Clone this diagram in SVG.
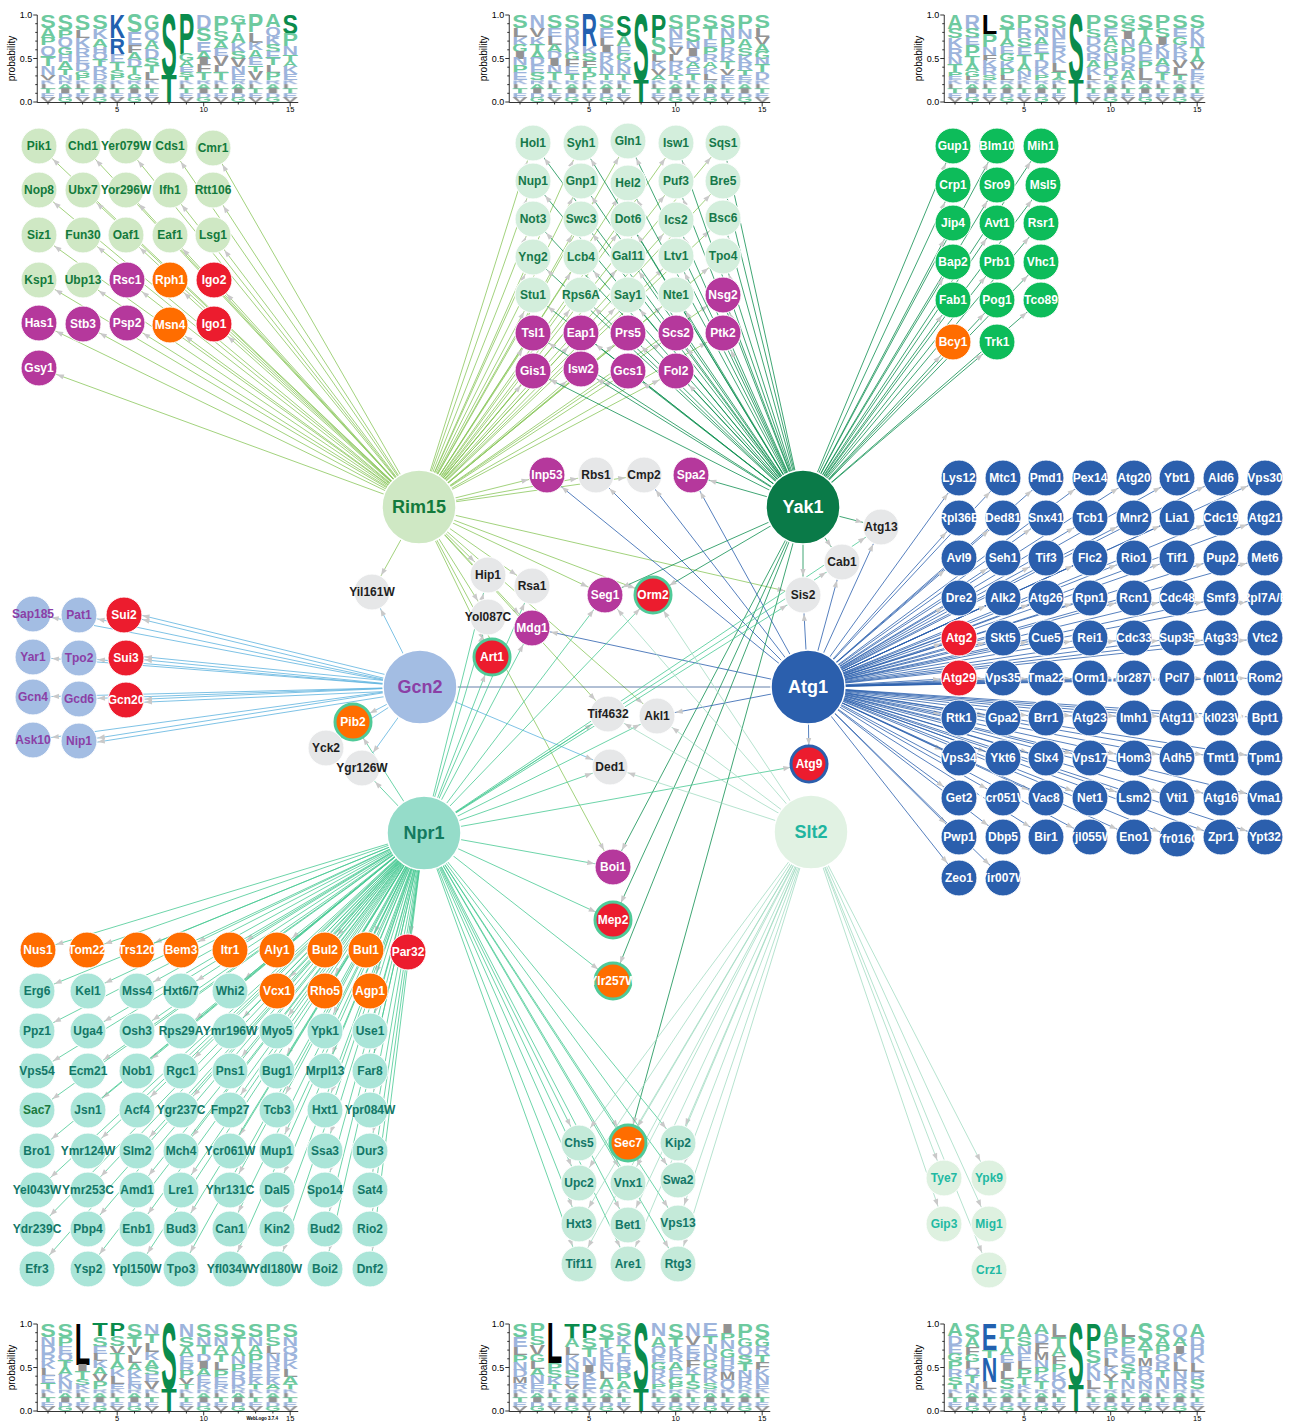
<svg xmlns="http://www.w3.org/2000/svg" width="1292" height="1421" viewBox="0 0 1292 1421">
<style>
text{font-family:"Liberation Sans",Arial,Helvetica,sans-serif;font-weight:bold}
.N text{font-size:12px;text-anchor:middle}
.N circle{stroke:#fff;stroke-width:1}
.H text{font-size:18px;text-anchor:middle}
.H circle{stroke:#fff;stroke-width:1.5}
.rl circle{fill:#cfe8c4}.rl text{fill:#137a3c}
.yl circle{fill:#d3eedc}.yl text{fill:#16784a}
.yb circle{fill:#0dbc5a}.yb text{fill:#fff}
.yd circle{fill:#0a7a48}.yd text{fill:#fff}
.mg circle{fill:#b5389c}.mg text{fill:#fff}
.or circle{fill:#ff6d00}.or text{fill:#fff}
.rd circle{fill:#ec1c2e}.rd text{fill:#fff}
.gy circle{fill:#e6e7e8}.gy text{fill:#1e1e1e}
.gb circle{fill:#a3bde3}.gb text{fill:#8b3fa6}
.ab circle{fill:#2b5fad}.ab text{fill:#fff}
.nl circle{fill:#aae5d8}.nl text{fill:#137767}
.nh circle{fill:#95dcc9}.nh text{fill:#137a5f}
.sm circle{fill:#c4ead9}.sm text{fill:#137767}
.sl circle{fill:#def1e0}.sl text{fill:#22b9a3}
.sh circle{fill:#e1f2e3}.sh text{fill:#1fb5a0}
.rg circle{stroke:#4fca98;stroke-width:3}
.rb circle{stroke:#2b5fad;stroke-width:3}
.E path{fill:none;stroke-width:.8;marker-end:url(#ar)}
.er path{stroke:#8ac65c}.ey path{stroke:#0f8f50}.eg path{stroke:#5db3de}.ea path{stroke:#2b5fad}.en path{stroke:#48c993}.es path{stroke:#a3dcc3}
.a{fill:#6dca9f}.b{fill:#9db4dc}.c{fill:#939393}.d{fill:#0a8b4c}.e{fill:#2261b0}.f{fill:#000}
.ty{font-weight:normal;font-size:9px;text-anchor:end}
.tp{font-weight:normal;font-size:10px;text-anchor:middle}
.tx{font-weight:normal;font-size:7.5px;text-anchor:middle}
</style>
<defs>
<marker id="ar" markerUnits="userSpaceOnUse" orient="auto" overflow="visible" markerWidth="1" markerHeight="1" refX="0" refY="0"><path d="M-26,-2.6L-19,0L-26,2.6z" fill="#c9c9c9" stroke="none"/></marker>
<text id="S" textLength="15.5" lengthAdjust="spacingAndGlyphs" font-size="14.5" font-weight="bold" font-family="Liberation Sans,Arial,sans-serif">S</text>
<text id="A" textLength="15.5" lengthAdjust="spacingAndGlyphs" font-size="14.5" font-weight="bold" font-family="Liberation Sans,Arial,sans-serif">A</text>
<text id="P" textLength="15.5" lengthAdjust="spacingAndGlyphs" font-size="14.5" font-weight="bold" font-family="Liberation Sans,Arial,sans-serif">P</text>
<text id="Q" textLength="15.5" lengthAdjust="spacingAndGlyphs" font-size="14.5" font-weight="bold" font-family="Liberation Sans,Arial,sans-serif">Q</text>
<text id="T" textLength="15.5" lengthAdjust="spacingAndGlyphs" font-size="14.5" font-weight="bold" font-family="Liberation Sans,Arial,sans-serif">T</text>
<text id="N" textLength="15.5" lengthAdjust="spacingAndGlyphs" font-size="14.5" font-weight="bold" font-family="Liberation Sans,Arial,sans-serif">N</text>
<text id="V" textLength="15.5" lengthAdjust="spacingAndGlyphs" font-size="14.5" font-weight="bold" font-family="Liberation Sans,Arial,sans-serif">V</text>
<text id="E" textLength="15.5" lengthAdjust="spacingAndGlyphs" font-size="14.5" font-weight="bold" font-family="Liberation Sans,Arial,sans-serif">E</text>
<text id="K" textLength="15.5" lengthAdjust="spacingAndGlyphs" font-size="14.5" font-weight="bold" font-family="Liberation Sans,Arial,sans-serif">K</text>
<text id="G" textLength="15.5" lengthAdjust="spacingAndGlyphs" font-size="14.5" font-weight="bold" font-family="Liberation Sans,Arial,sans-serif">G</text>
<text id="H" textLength="15.5" lengthAdjust="spacingAndGlyphs" font-size="14.5" font-weight="bold" font-family="Liberation Sans,Arial,sans-serif">H</text>
<text id="L" textLength="15.5" lengthAdjust="spacingAndGlyphs" font-size="14.5" font-weight="bold" font-family="Liberation Sans,Arial,sans-serif">L</text>
<text id="R" textLength="15.5" lengthAdjust="spacingAndGlyphs" font-size="14.5" font-weight="bold" font-family="Liberation Sans,Arial,sans-serif">R</text>
<text id="D" textLength="15.5" lengthAdjust="spacingAndGlyphs" font-size="14.5" font-weight="bold" font-family="Liberation Sans,Arial,sans-serif">D</text>
<text id="F" textLength="15.5" lengthAdjust="spacingAndGlyphs" font-size="14.5" font-weight="bold" font-family="Liberation Sans,Arial,sans-serif">F</text>
<text id="I" textLength="15.5" lengthAdjust="spacingAndGlyphs" font-size="14.5" font-weight="bold" font-family="Liberation Sans,Arial,sans-serif">I</text>
<text id="M" textLength="15.5" lengthAdjust="spacingAndGlyphs" font-size="14.5" font-weight="bold" font-family="Liberation Sans,Arial,sans-serif">M</text>
<text id="Y" textLength="15.5" lengthAdjust="spacingAndGlyphs" font-size="14.5" font-weight="bold" font-family="Liberation Sans,Arial,sans-serif">Y</text>
<pattern id="rs" width="34.6" height="25" patternUnits="userSpaceOnUse">
<use href="#K" class="b" transform="matrix(1 0 0 .5 0 5)"/><use href="#L" class="c" transform="matrix(1 0 0 .5 0 10)"/><use href="#T" class="a" transform="matrix(1 0 0 .5 0 15)"/><use href="#E" class="b" transform="matrix(1 0 0 .5 0 20)"/><use href="#V" class="c" transform="matrix(1 0 0 .5 0 25)"/>
<use href="#R" class="b" transform="matrix(1 0 0 .5 17.3 5)"/><use href="#A" class="a" transform="matrix(1 0 0 .5 17.3 10)"/><use href="#I" class="c" transform="matrix(1 0 0 .5 17.3 15)"/><use href="#D" class="b" transform="matrix(1 0 0 .5 17.3 20)"/><use href="#G" class="a" transform="matrix(1 0 0 .5 17.3 25)"/>
</pattern>
<path id="ax" d="M-3,0V87.5H258M-7,0H-3M-7,43.5H-3M-7,87H-3M-5,8.7H-3M-5,17.4H-3M-5,26.1H-3M-5,34.8H-3M-5,52.2H-3M-5,60.9H-3M-5,69.6H-3M-5,78.3H-3M7.75,87.5v2M25.05,87.5v2M42.35,87.5v2M59.65,87.5v2M76.95,87.5v4M94.25,87.5v2M111.55,87.5v2M128.85,87.5v2M146.15,87.5v2M163.45,87.5v4M180.75,87.5v2M198.05,87.5v2M215.35,87.5v2M232.65,87.5v2M249.95,87.5v4" stroke="#000" stroke-width=".8" fill="none"/>
</defs>
<rect width="1292" height="1421" fill="#fff"/>

<!-- LOGOS -->
<g id="logo-rim15" transform="translate(40.25,15)">
<use href="#ax"/>
<text class="ty" x="-8" y="3">1.0</text><text class="ty" x="-8" y="46.5">0.5</text><text class="ty" x="-8" y="90">0.0</text>
<text class="tp" transform="translate(-25,43.5)rotate(-90)">probability</text>
<text class="tx" x="76.95" y="97">5</text><text class="tx" x="163.45" y="97">10</text><text class="tx" x="249.95" y="97">15</text>
<g transform="scale(1,.87)">
<rect x="0" y="75" width="119.3" height="25" fill="url(#rs)"/><rect x="138.4" y="75" width="119.3" height="25" fill="url(#rs)"/>
<use href="#S" class="a" transform="matrix(1 0 0 1.5 0 15)"/><use href="#A" class="a" transform="matrix(1 0 0 1.1 0 26)"/><use href="#P" class="a" transform="matrix(1 0 0 .9 0 35)"/><use href="#Q" class="b" transform="matrix(1 0 0 1.2 0 47)"/><use href="#T" class="a" transform="matrix(1 0 0 1.2 0 59)"/><use href="#N" class="b" transform="matrix(1 0 0 1 0 69)"/><use href="#V" class="c" transform="matrix(1 0 0 .6 0 75)"/>
<use href="#S" class="a" transform="matrix(1 0 0 1.7 17.3 17)"/><use href="#P" class="a" transform="matrix(1 0 0 .9 17.3 26)"/><use href="#Q" class="b" transform="matrix(1 0 0 1.1 17.3 37)"/><use href="#G" class="a" transform="matrix(1 0 0 .9 17.3 46)"/><use href="#H" class="b" transform="matrix(1 0 0 .8 17.3 54)"/><use href="#A" class="a" transform="matrix(1 0 0 .8 17.3 62)"/><use href="#T" class="a" transform="matrix(1 0 0 .7 17.3 69)"/><use href="#N" class="b" transform="matrix(1 0 0 .6 17.3 75)"/>
<use href="#S" class="a" transform="matrix(1 0 0 1.7 34.6 17)"/><use href="#L" class="c" transform="matrix(1 0 0 .9 34.6 26)"/><use href="#K" class="b" transform="matrix(1 0 0 1.2 34.6 38)"/><use href="#R" class="b" transform="matrix(1 0 0 .9 34.6 47)"/><use href="#E" class="b" transform="matrix(1 0 0 .9 34.6 56)"/><use href="#D" class="b" transform="matrix(1 0 0 .8 34.6 64)"/><use href="#G" class="a" transform="matrix(1 0 0 .6 34.6 70)"/><use href="#P" class="a" transform="matrix(1 0 0 .5 34.6 75)"/>
<use href="#S" class="a" transform="matrix(1 0 0 1.6 51.9 16)"/><use href="#K" class="b" transform="matrix(1 0 0 1.2 51.9 28)"/><use href="#A" class="a" transform="matrix(1 0 0 .9 51.9 37)"/><use href="#H" class="b" transform="matrix(1 0 0 .7 51.9 44)"/><use href="#Q" class="b" transform="matrix(1 0 0 .8 51.9 52)"/><use href="#T" class="a" transform="matrix(1 0 0 .8 51.9 60)"/><use href="#R" class="b" transform="matrix(1 0 0 .8 51.9 68)"/><use href="#D" class="b" transform="matrix(1 0 0 .7 51.9 75)"/>
<use href="#K" class="e" transform="matrix(1 0 0 2.7 69.2 27)"/><use href="#R" class="e" transform="matrix(1 0 0 1.8 69.2 45)"/><use href="#E" class="b" transform="matrix(1 0 0 1 69.2 55)"/><use href="#T" class="a" transform="matrix(1 0 0 .8 69.2 63)"/><use href="#S" class="a" transform="matrix(1 0 0 .7 69.2 70)"/><use href="#P" class="a" transform="matrix(1 0 0 .5 69.2 75)"/>
<use href="#S" class="a" transform="matrix(1 0 0 2 86.5 20)"/><use href="#E" class="b" transform="matrix(1 0 0 1.5 86.5 35)"/><use href="#F" class="c" transform="matrix(1 0 0 .9 86.5 44)"/><use href="#A" class="a" transform="matrix(1 0 0 .8 86.5 52)"/><use href="#D" class="b" transform="matrix(1 0 0 .8 86.5 60)"/><use href="#T" class="a" transform="matrix(1 0 0 .8 86.5 68)"/><use href="#G" class="a" transform="matrix(1 0 0 .7 86.5 75)"/>
<use href="#G" class="a" transform="matrix(1 0 0 1.7 103.8 17)"/><use href="#Q" class="b" transform="matrix(1 0 0 1.2 103.8 29)"/><use href="#A" class="a" transform="matrix(1 0 0 1 103.8 39)"/><use href="#D" class="b" transform="matrix(1 0 0 1.1 103.8 50)"/><use href="#S" class="a" transform="matrix(1 0 0 .9 103.8 59)"/><use href="#T" class="a" transform="matrix(1 0 0 .8 103.8 67)"/><use href="#L" class="c" transform="matrix(1 0 0 .8 103.8 75)"/>
<use href="#S" class="d" transform="matrix(1 0 0 6.9 121.1 69)"/><use href="#T" class="d" transform="matrix(1 0 0 3.1 121.1 100)"/>
<use href="#P" class="d" transform="matrix(1 0 0 4.5 138.4 45)"/><use href="#G" class="a" transform="matrix(1 0 0 .8 138.4 53)"/><use href="#A" class="a" transform="matrix(1 0 0 .7 138.4 60)"/><use href="#E" class="b" transform="matrix(1 0 0 .6 138.4 66)"/><use href="#S" class="a" transform="matrix(1 0 0 .5 138.4 71)"/><use href="#T" class="a" transform="matrix(1 0 0 .4 138.4 75)"/>
<use href="#D" class="b" transform="matrix(1 0 0 1.6 155.7 16)"/><use href="#S" class="a" transform="matrix(1 0 0 1.4 155.7 30)"/><use href="#E" class="b" transform="matrix(1 0 0 1.2 155.7 42)"/><use href="#A" class="a" transform="matrix(1 0 0 .8 155.7 50)"/><use href="#I" class="c" transform="matrix(1 0 0 .8 155.7 58)"/><use href="#F" class="c" transform="matrix(1 0 0 .8 155.7 66)"/><use href="#T" class="a" transform="matrix(1 0 0 .9 155.7 75)"/>
<use href="#P" class="a" transform="matrix(1 0 0 1.8 173 18)"/><use href="#S" class="a" transform="matrix(1 0 0 1.2 173 30)"/><use href="#A" class="a" transform="matrix(1 0 0 .9 173 39)"/><use href="#E" class="b" transform="matrix(1 0 0 .8 173 47)"/><use href="#V" class="c" transform="matrix(1 0 0 1.2 173 59)"/><use href="#L" class="c" transform="matrix(1 0 0 .8 173 67)"/><use href="#T" class="a" transform="matrix(1 0 0 .8 173 75)"/>
<use href="#G" class="a" transform="matrix(1 0 0 1 190.3 10)"/><use href="#T" class="a" transform="matrix(1 0 0 1 190.3 20)"/><use href="#A" class="a" transform="matrix(1 0 0 1.2 190.3 32)"/><use href="#K" class="b" transform="matrix(1 0 0 1 190.3 42)"/><use href="#S" class="a" transform="matrix(1 0 0 .8 190.3 50)"/><use href="#V" class="c" transform="matrix(1 0 0 1 190.3 60)"/><use href="#N" class="b" transform="matrix(1 0 0 .8 190.3 68)"/><use href="#E" class="b" transform="matrix(1 0 0 .7 190.3 75)"/>
<use href="#P" class="a" transform="matrix(1 0 0 2 207.6 20)"/><use href="#L" class="c" transform="matrix(1 0 0 1.2 207.6 32)"/><use href="#K" class="b" transform="matrix(1 0 0 .8 207.6 40)"/><use href="#A" class="a" transform="matrix(1 0 0 1 207.6 50)"/><use href="#E" class="b" transform="matrix(1 0 0 .8 207.6 58)"/><use href="#T" class="a" transform="matrix(1 0 0 .7 207.6 65)"/><use href="#V" class="c" transform="matrix(1 0 0 1 207.6 75)"/>
<use href="#A" class="a" transform="matrix(1 0 0 1.4 224.9 14)"/><use href="#Q" class="b" transform="matrix(1 0 0 1 224.9 24)"/><use href="#K" class="b" transform="matrix(1 0 0 1 224.9 34)"/><use href="#S" class="a" transform="matrix(1 0 0 .8 224.9 42)"/><use href="#E" class="b" transform="matrix(1 0 0 .8 224.9 50)"/><use href="#T" class="a" transform="matrix(1 0 0 .8 224.9 58)"/><use href="#L" class="c" transform="matrix(1 0 0 .9 224.9 67)"/><use href="#P" class="a" transform="matrix(1 0 0 .8 224.9 75)"/>
<use href="#S" class="d" transform="matrix(1 0 0 2.2 242.2 22)"/><use href="#P" class="a" transform="matrix(1 0 0 1.4 242.2 36)"/><use href="#N" class="b" transform="matrix(1 0 0 1 242.2 46)"/><use href="#T" class="a" transform="matrix(1 0 0 .7 242.2 53)"/><use href="#A" class="a" transform="matrix(1 0 0 .7 242.2 60)"/><use href="#K" class="b" transform="matrix(1 0 0 .8 242.2 68)"/><use href="#E" class="b" transform="matrix(1 0 0 .7 242.2 75)"/>
</g></g>

<g id="logo-yak1" transform="translate(512.25,15)">
<use href="#ax"/>
<text class="ty" x="-8" y="3">1.0</text><text class="ty" x="-8" y="46.5">0.5</text><text class="ty" x="-8" y="90">0.0</text>
<text class="tp" transform="translate(-25,43.5)rotate(-90)">probability</text>
<text class="tx" x="76.95" y="97">5</text><text class="tx" x="163.45" y="97">10</text><text class="tx" x="249.95" y="97">15</text>
<g transform="scale(1,.87)">
<rect x="0" y="75" width="119.3" height="25" fill="url(#rs)"/><rect x="138.4" y="75" width="119.3" height="25" fill="url(#rs)"/>
<use href="#S" class="a" transform="matrix(1 0 0 1.5 0 15)"/><use href="#L" class="c" transform="matrix(1 0 0 1 0 25)"/><use href="#K" class="b" transform="matrix(1 0 0 .9 0 34)"/><use href="#G" class="a" transform="matrix(1 0 0 .8 0 42)"/><use href="#I" class="c" transform="matrix(1 0 0 .8 0 50)"/><use href="#N" class="b" transform="matrix(1 0 0 .8 0 58)"/><use href="#P" class="a" transform="matrix(1 0 0 .9 0 67)"/><use href="#E" class="b" transform="matrix(1 0 0 .8 0 75)"/>
<use href="#N" class="b" transform="matrix(1 0 0 1.5 17.3 15)"/><use href="#V" class="c" transform="matrix(1 0 0 1 17.3 25)"/><use href="#K" class="b" transform="matrix(1 0 0 .9 17.3 34)"/><use href="#T" class="a" transform="matrix(1 0 0 .8 17.3 42)"/><use href="#A" class="a" transform="matrix(1 0 0 .8 17.3 50)"/><use href="#D" class="b" transform="matrix(1 0 0 .8 17.3 58)"/><use href="#E" class="b" transform="matrix(1 0 0 .9 17.3 67)"/><use href="#S" class="a" transform="matrix(1 0 0 .8 17.3 75)"/>
<use href="#S" class="a" transform="matrix(1 0 0 1.5 34.6 15)"/><use href="#E" class="b" transform="matrix(1 0 0 1 34.6 25)"/><use href="#L" class="c" transform="matrix(1 0 0 1 34.6 35)"/><use href="#A" class="a" transform="matrix(1 0 0 .8 34.6 43)"/><use href="#D" class="b" transform="matrix(1 0 0 .8 34.6 51)"/><use href="#I" class="c" transform="matrix(1 0 0 .8 34.6 59)"/><use href="#N" class="b" transform="matrix(1 0 0 .8 34.6 67)"/><use href="#T" class="a" transform="matrix(1 0 0 .8 34.6 75)"/>
<use href="#S" class="a" transform="matrix(1 0 0 1.5 51.9 15)"/><use href="#D" class="b" transform="matrix(1 0 0 1 51.9 25)"/><use href="#N" class="b" transform="matrix(1 0 0 1 51.9 35)"/><use href="#K" class="b" transform="matrix(1 0 0 .9 51.9 44)"/><use href="#G" class="a" transform="matrix(1 0 0 .8 51.9 52)"/><use href="#F" class="c" transform="matrix(1 0 0 .8 51.9 60)"/><use href="#E" class="b" transform="matrix(1 0 0 .8 51.9 68)"/><use href="#T" class="a" transform="matrix(1 0 0 .7 51.9 75)"/>
<use href="#R" class="e" transform="matrix(1 0 0 3.6 69.2 36)"/><use href="#K" class="b" transform="matrix(1 0 0 .9 69.2 45)"/><use href="#S" class="a" transform="matrix(1 0 0 .8 69.2 53)"/><use href="#F" class="c" transform="matrix(1 0 0 .7 69.2 60)"/><use href="#T" class="a" transform="matrix(1 0 0 .7 69.2 67)"/><use href="#P" class="a" transform="matrix(1 0 0 .8 69.2 75)"/>
<use href="#S" class="a" transform="matrix(1 0 0 1.5 86.5 15)"/><use href="#E" class="b" transform="matrix(1 0 0 1.2 86.5 27)"/><use href="#L" class="c" transform="matrix(1 0 0 .9 86.5 36)"/><use href="#I" class="c" transform="matrix(1 0 0 .8 86.5 44)"/><use href="#R" class="b" transform="matrix(1 0 0 .8 86.5 52)"/><use href="#K" class="b" transform="matrix(1 0 0 .8 86.5 60)"/><use href="#N" class="b" transform="matrix(1 0 0 .8 86.5 68)"/><use href="#T" class="a" transform="matrix(1 0 0 .7 86.5 75)"/>
<use href="#S" class="d" transform="matrix(1 0 0 2.4 103.8 24)"/><use href="#A" class="a" transform="matrix(1 0 0 1.2 103.8 36)"/><use href="#E" class="b" transform="matrix(1 0 0 .9 103.8 45)"/><use href="#G" class="a" transform="matrix(1 0 0 .8 103.8 53)"/><use href="#K" class="b" transform="matrix(1 0 0 .8 103.8 61)"/><use href="#N" class="b" transform="matrix(1 0 0 .7 103.8 68)"/><use href="#T" class="a" transform="matrix(1 0 0 .7 103.8 75)"/>
<use href="#S" class="d" transform="matrix(1 0 0 7.5 121.1 75)"/><use href="#T" class="d" transform="matrix(1 0 0 2.5 121.1 100)"/>
<use href="#P" class="d" transform="matrix(1 0 0 2.6 138.4 26)"/><use href="#S" class="a" transform="matrix(1 0 0 2 138.4 46)"/><use href="#L" class="c" transform="matrix(1 0 0 .8 138.4 54)"/><use href="#K" class="b" transform="matrix(1 0 0 .8 138.4 62)"/><use href="#V" class="c" transform="matrix(1 0 0 .7 138.4 69)"/><use href="#A" class="a" transform="matrix(1 0 0 .6 138.4 75)"/>
<use href="#S" class="a" transform="matrix(1 0 0 1.6 155.7 16)"/><use href="#N" class="b" transform="matrix(1 0 0 1.1 155.7 27)"/><use href="#E" class="b" transform="matrix(1 0 0 1 155.7 37)"/><use href="#V" class="c" transform="matrix(1 0 0 .9 155.7 46)"/><use href="#L" class="c" transform="matrix(1 0 0 .8 155.7 54)"/><use href="#R" class="b" transform="matrix(1 0 0 .8 155.7 62)"/><use href="#K" class="b" transform="matrix(1 0 0 .7 155.7 69)"/><use href="#T" class="a" transform="matrix(1 0 0 .6 155.7 75)"/>
<use href="#P" class="a" transform="matrix(1 0 0 1.6 173 16)"/><use href="#S" class="a" transform="matrix(1 0 0 1.5 173 31)"/><use href="#N" class="b" transform="matrix(1 0 0 .8 173 39)"/><use href="#I" class="c" transform="matrix(1 0 0 .8 173 47)"/><use href="#Q" class="b" transform="matrix(1 0 0 .7 173 54)"/><use href="#A" class="a" transform="matrix(1 0 0 .7 173 61)"/><use href="#E" class="b" transform="matrix(1 0 0 .7 173 68)"/><use href="#T" class="a" transform="matrix(1 0 0 .7 173 75)"/>
<use href="#S" class="a" transform="matrix(1 0 0 1.5 190.3 15)"/><use href="#T" class="a" transform="matrix(1 0 0 1.3 190.3 28)"/><use href="#E" class="b" transform="matrix(1 0 0 .9 190.3 37)"/><use href="#P" class="a" transform="matrix(1 0 0 .9 190.3 46)"/><use href="#R" class="b" transform="matrix(1 0 0 .8 190.3 54)"/><use href="#A" class="a" transform="matrix(1 0 0 .7 190.3 61)"/><use href="#K" class="b" transform="matrix(1 0 0 .7 190.3 68)"/><use href="#L" class="c" transform="matrix(1 0 0 .7 190.3 75)"/>
<use href="#S" class="a" transform="matrix(1 0 0 1.5 207.6 15)"/><use href="#N" class="b" transform="matrix(1 0 0 1.2 207.6 27)"/><use href="#P" class="a" transform="matrix(1 0 0 1 207.6 37)"/><use href="#R" class="b" transform="matrix(1 0 0 .9 207.6 46)"/><use href="#K" class="b" transform="matrix(1 0 0 .8 207.6 54)"/><use href="#T" class="a" transform="matrix(1 0 0 .8 207.6 62)"/><use href="#V" class="c" transform="matrix(1 0 0 .7 207.6 69)"/><use href="#E" class="b" transform="matrix(1 0 0 .6 207.6 75)"/>
<use href="#P" class="a" transform="matrix(1 0 0 1.6 224.9 16)"/><use href="#N" class="b" transform="matrix(1 0 0 1.2 224.9 28)"/><use href="#A" class="a" transform="matrix(1 0 0 1 224.9 38)"/><use href="#S" class="a" transform="matrix(1 0 0 .9 224.9 47)"/><use href="#K" class="b" transform="matrix(1 0 0 .8 224.9 55)"/><use href="#R" class="b" transform="matrix(1 0 0 .8 224.9 63)"/><use href="#T" class="a" transform="matrix(1 0 0 .7 224.9 70)"/><use href="#E" class="b" transform="matrix(1 0 0 .5 224.9 75)"/>
<use href="#S" class="a" transform="matrix(1 0 0 1.5 242.2 15)"/><use href="#L" class="c" transform="matrix(1 0 0 1 242.2 25)"/><use href="#V" class="c" transform="matrix(1 0 0 .9 242.2 34)"/><use href="#A" class="a" transform="matrix(1 0 0 .8 242.2 42)"/><use href="#G" class="a" transform="matrix(1 0 0 .8 242.2 50)"/><use href="#N" class="b" transform="matrix(1 0 0 .8 242.2 58)"/><use href="#T" class="a" transform="matrix(1 0 0 .8 242.2 66)"/><use href="#D" class="b" transform="matrix(1 0 0 .9 242.2 75)"/>
</g></g>

<g id="logo-atg1" transform="translate(947.25,15)">
<use href="#ax"/>
<text class="ty" x="-8" y="3">1.0</text><text class="ty" x="-8" y="46.5">0.5</text><text class="ty" x="-8" y="90">0.0</text>
<text class="tp" transform="translate(-25,43.5)rotate(-90)">probability</text>
<text class="tx" x="76.95" y="97">5</text><text class="tx" x="163.45" y="97">10</text><text class="tx" x="249.95" y="97">15</text>
<g transform="scale(1,.87)">
<rect x="0" y="75" width="119.3" height="25" fill="url(#rs)"/><rect x="138.4" y="75" width="119.3" height="25" fill="url(#rs)"/>
<use href="#A" class="a" transform="matrix(1 0 0 1.6 0 16)"/><use href="#S" class="a" transform="matrix(1 0 0 1.1 0 27)"/><use href="#K" class="b" transform="matrix(1 0 0 1.1 0 38)"/><use href="#R" class="b" transform="matrix(1 0 0 1.1 0 49)"/><use href="#N" class="b" transform="matrix(1 0 0 .8 0 57)"/><use href="#T" class="a" transform="matrix(1 0 0 .8 0 65)"/><use href="#P" class="a" transform="matrix(1 0 0 .6 0 71)"/><use href="#E" class="b" transform="matrix(1 0 0 .4 0 75)"/>
<use href="#R" class="b" transform="matrix(1 0 0 1.6 17.3 16)"/><use href="#S" class="a" transform="matrix(1 0 0 1.1 17.3 27)"/><use href="#E" class="b" transform="matrix(1 0 0 .8 17.3 35)"/><use href="#P" class="a" transform="matrix(1 0 0 1.3 17.3 48)"/><use href="#T" class="a" transform="matrix(1 0 0 .8 17.3 56)"/><use href="#A" class="a" transform="matrix(1 0 0 .8 17.3 64)"/><use href="#G" class="a" transform="matrix(1 0 0 .7 17.3 71)"/><use href="#L" class="c" transform="matrix(1 0 0 .4 17.3 75)"/>
<use href="#L" class="f" transform="matrix(1 0 0 2.2 34.6 22)"/><use href="#P" class="a" transform="matrix(1 0 0 1.5 34.6 37)"/><use href="#N" class="b" transform="matrix(1 0 0 .9 34.6 46)"/><use href="#F" class="c" transform="matrix(1 0 0 .7 34.6 53)"/><use href="#K" class="b" transform="matrix(1 0 0 .8 34.6 61)"/><use href="#R" class="b" transform="matrix(1 0 0 .8 34.6 69)"/><use href="#S" class="a" transform="matrix(1 0 0 .6 34.6 75)"/>
<use href="#S" class="a" transform="matrix(1 0 0 1.6 51.9 16)"/><use href="#T" class="a" transform="matrix(1 0 0 1.1 51.9 27)"/><use href="#A" class="a" transform="matrix(1 0 0 .9 51.9 36)"/><use href="#E" class="b" transform="matrix(1 0 0 .9 51.9 45)"/><use href="#G" class="a" transform="matrix(1 0 0 .8 51.9 53)"/><use href="#K" class="b" transform="matrix(1 0 0 .9 51.9 62)"/><use href="#P" class="a" transform="matrix(1 0 0 .8 51.9 70)"/><use href="#L" class="c" transform="matrix(1 0 0 .5 51.9 75)"/>
<use href="#P" class="a" transform="matrix(1 0 0 1.5 69.2 15)"/><use href="#R" class="b" transform="matrix(1 0 0 1.2 69.2 27)"/><use href="#S" class="a" transform="matrix(1 0 0 1 69.2 37)"/><use href="#E" class="b" transform="matrix(1 0 0 .9 69.2 46)"/><use href="#T" class="a" transform="matrix(1 0 0 .9 69.2 55)"/><use href="#A" class="a" transform="matrix(1 0 0 .9 69.2 64)"/><use href="#N" class="b" transform="matrix(1 0 0 .7 69.2 71)"/><use href="#K" class="b" transform="matrix(1 0 0 .4 69.2 75)"/>
<use href="#S" class="a" transform="matrix(1 0 0 1.5 86.5 15)"/><use href="#N" class="b" transform="matrix(1 0 0 1 86.5 25)"/><use href="#A" class="a" transform="matrix(1 0 0 .9 86.5 34)"/><use href="#E" class="b" transform="matrix(1 0 0 1 86.5 44)"/><use href="#T" class="a" transform="matrix(1 0 0 .9 86.5 53)"/><use href="#D" class="b" transform="matrix(1 0 0 .8 86.5 61)"/><use href="#K" class="b" transform="matrix(1 0 0 .8 86.5 69)"/><use href="#P" class="a" transform="matrix(1 0 0 .6 86.5 75)"/>
<use href="#S" class="a" transform="matrix(1 0 0 1.5 103.8 15)"/><use href="#N" class="b" transform="matrix(1 0 0 1.2 103.8 27)"/><use href="#E" class="b" transform="matrix(1 0 0 1 103.8 37)"/><use href="#R" class="b" transform="matrix(1 0 0 .9 103.8 46)"/><use href="#K" class="b" transform="matrix(1 0 0 .9 103.8 55)"/><use href="#L" class="c" transform="matrix(1 0 0 1 103.8 65)"/><use href="#T" class="a" transform="matrix(1 0 0 .7 103.8 72)"/><use href="#A" class="a" transform="matrix(1 0 0 .3 103.8 75)"/>
<use href="#S" class="d" transform="matrix(1 0 0 7.5 121.1 75)"/><use href="#T" class="d" transform="matrix(1 0 0 2.5 121.1 100)"/>
<use href="#P" class="a" transform="matrix(1 0 0 1.6 138.4 16)"/><use href="#S" class="a" transform="matrix(1 0 0 1 138.4 26)"/><use href="#D" class="b" transform="matrix(1 0 0 .9 138.4 35)"/><use href="#Q" class="b" transform="matrix(1 0 0 .9 138.4 44)"/><use href="#R" class="b" transform="matrix(1 0 0 .9 138.4 53)"/><use href="#A" class="a" transform="matrix(1 0 0 .8 138.4 61)"/><use href="#K" class="b" transform="matrix(1 0 0 .8 138.4 69)"/><use href="#L" class="c" transform="matrix(1 0 0 .6 138.4 75)"/>
<use href="#S" class="a" transform="matrix(1 0 0 1.5 155.7 15)"/><use href="#E" class="b" transform="matrix(1 0 0 1 155.7 25)"/><use href="#A" class="a" transform="matrix(1 0 0 1 155.7 35)"/><use href="#G" class="a" transform="matrix(1 0 0 .9 155.7 44)"/><use href="#N" class="b" transform="matrix(1 0 0 .9 155.7 53)"/><use href="#P" class="a" transform="matrix(1 0 0 .9 155.7 62)"/><use href="#Q" class="b" transform="matrix(1 0 0 .8 155.7 70)"/><use href="#T" class="a" transform="matrix(1 0 0 .5 155.7 75)"/>
<use href="#G" class="a" transform="matrix(1 0 0 1 173 10)"/><use href="#S" class="a" transform="matrix(1 0 0 .9 173 19)"/><use href="#I" class="c" transform="matrix(1 0 0 .9 173 28)"/><use href="#N" class="b" transform="matrix(1 0 0 .9 173 37)"/><use href="#P" class="a" transform="matrix(1 0 0 .9 173 46)"/><use href="#Q" class="b" transform="matrix(1 0 0 .9 173 55)"/><use href="#R" class="b" transform="matrix(1 0 0 .9 173 64)"/><use href="#A" class="a" transform="matrix(1 0 0 1.1 173 75)"/>
<use href="#S" class="a" transform="matrix(1 0 0 1.5 190.3 15)"/><use href="#T" class="a" transform="matrix(1 0 0 1.1 190.3 26)"/><use href="#A" class="a" transform="matrix(1 0 0 .9 190.3 35)"/><use href="#D" class="b" transform="matrix(1 0 0 .9 190.3 44)"/><use href="#E" class="b" transform="matrix(1 0 0 .9 190.3 53)"/><use href="#P" class="a" transform="matrix(1 0 0 .9 190.3 62)"/><use href="#L" class="c" transform="matrix(1 0 0 1.3 190.3 75)"/>
<use href="#P" class="a" transform="matrix(1 0 0 1.5 207.6 15)"/><use href="#S" class="a" transform="matrix(1 0 0 1.1 207.6 26)"/><use href="#I" class="c" transform="matrix(1 0 0 .8 207.6 34)"/><use href="#K" class="b" transform="matrix(1 0 0 .9 207.6 43)"/><use href="#N" class="b" transform="matrix(1 0 0 .8 207.6 51)"/><use href="#A" class="a" transform="matrix(1 0 0 .8 207.6 59)"/><use href="#Q" class="b" transform="matrix(1 0 0 .8 207.6 67)"/><use href="#T" class="a" transform="matrix(1 0 0 .8 207.6 75)"/>
<use href="#S" class="a" transform="matrix(1 0 0 1.5 224.9 15)"/><use href="#E" class="b" transform="matrix(1 0 0 1 224.9 25)"/><use href="#G" class="a" transform="matrix(1 0 0 .9 224.9 34)"/><use href="#K" class="b" transform="matrix(1 0 0 .9 224.9 43)"/><use href="#R" class="b" transform="matrix(1 0 0 .9 224.9 52)"/><use href="#V" class="c" transform="matrix(1 0 0 .9 224.9 61)"/><use href="#L" class="c" transform="matrix(1 0 0 .8 224.9 69)"/><use href="#T" class="a" transform="matrix(1 0 0 .6 224.9 75)"/>
<use href="#S" class="a" transform="matrix(1 0 0 1.5 242.2 15)"/><use href="#K" class="b" transform="matrix(1 0 0 1.2 242.2 27)"/><use href="#N" class="b" transform="matrix(1 0 0 1 242.2 37)"/><use href="#T" class="a" transform="matrix(1 0 0 .9 242.2 46)"/><use href="#A" class="a" transform="matrix(1 0 0 .9 242.2 55)"/><use href="#V" class="c" transform="matrix(1 0 0 .8 242.2 63)"/><use href="#E" class="b" transform="matrix(1 0 0 .8 242.2 71)"/><use href="#R" class="b" transform="matrix(1 0 0 .4 242.2 75)"/>
</g></g>

<g id="logo-npr1" transform="translate(40.25,1324)">
<use href="#ax"/>
<text class="ty" x="-8" y="3">1.0</text><text class="ty" x="-8" y="46.5">0.5</text><text class="ty" x="-8" y="90">0.0</text>
<text class="tp" transform="translate(-25,43.5)rotate(-90)">probability</text>
<text class="tx" x="76.95" y="97">5</text><text class="tx" x="163.45" y="97">10</text><text class="tx" x="249.95" y="97">15</text>
<text x="222" y="96" font-size="4.5" font-weight="normal" text-anchor="middle">WebLogo 3.7.4</text>
<g transform="scale(1,.87)">
<rect x="0" y="75" width="119.3" height="25" fill="url(#rs)"/><rect x="138.4" y="75" width="119.3" height="25" fill="url(#rs)"/>
<use href="#S" class="a" transform="matrix(1 0 0 1.5 0 15)"/><use href="#N" class="b" transform="matrix(1 0 0 1 0 25)"/><use href="#D" class="b" transform="matrix(1 0 0 1 0 35)"/><use href="#R" class="b" transform="matrix(1 0 0 .9 0 44)"/><use href="#K" class="b" transform="matrix(1 0 0 .8 0 52)"/><use href="#L" class="c" transform="matrix(1 0 0 .8 0 60)"/><use href="#E" class="b" transform="matrix(1 0 0 .8 0 68)"/><use href="#T" class="a" transform="matrix(1 0 0 .7 0 75)"/>
<use href="#S" class="a" transform="matrix(1 0 0 1.5 17.3 15)"/><use href="#P" class="a" transform="matrix(1 0 0 1 17.3 25)"/><use href="#E" class="b" transform="matrix(1 0 0 .9 17.3 34)"/><use href="#Q" class="b" transform="matrix(1 0 0 .9 17.3 43)"/><use href="#T" class="a" transform="matrix(1 0 0 .8 17.3 51)"/><use href="#A" class="a" transform="matrix(1 0 0 .8 17.3 59)"/><use href="#K" class="b" transform="matrix(1 0 0 .8 17.3 67)"/><use href="#N" class="b" transform="matrix(1 0 0 .8 17.3 75)"/>
<use href="#L" class="f" transform="matrix(1 0 0 4.7 34.6 47)"/><use href="#I" class="c" transform="matrix(1 0 0 .8 34.6 55)"/><use href="#T" class="a" transform="matrix(1 0 0 .8 34.6 63)"/><use href="#S" class="a" transform="matrix(1 0 0 .7 34.6 70)"/><use href="#K" class="b" transform="matrix(1 0 0 .5 34.6 75)"/>
<use href="#T" class="d" transform="matrix(1 0 0 1.4 51.9 14)"/><use href="#S" class="a" transform="matrix(1 0 0 1.2 51.9 26)"/><use href="#E" class="b" transform="matrix(1 0 0 .8 51.9 34)"/><use href="#L" class="c" transform="matrix(1 0 0 .9 51.9 43)"/><use href="#K" class="b" transform="matrix(1 0 0 .8 51.9 51)"/><use href="#A" class="a" transform="matrix(1 0 0 .8 51.9 59)"/><use href="#V" class="c" transform="matrix(1 0 0 .8 51.9 67)"/><use href="#P" class="a" transform="matrix(1 0 0 .8 51.9 75)"/>
<use href="#P" class="d" transform="matrix(1 0 0 1.4 69.2 14)"/><use href="#S" class="a" transform="matrix(1 0 0 1.1 69.2 25)"/><use href="#V" class="c" transform="matrix(1 0 0 .9 69.2 34)"/><use href="#T" class="a" transform="matrix(1 0 0 .9 69.2 43)"/><use href="#A" class="a" transform="matrix(1 0 0 .9 69.2 52)"/><use href="#K" class="b" transform="matrix(1 0 0 .9 69.2 61)"/><use href="#L" class="c" transform="matrix(1 0 0 .8 69.2 69)"/><use href="#E" class="b" transform="matrix(1 0 0 .6 69.2 75)"/>
<use href="#S" class="a" transform="matrix(1 0 0 1.5 86.5 15)"/><use href="#T" class="a" transform="matrix(1 0 0 1.1 86.5 26)"/><use href="#V" class="c" transform="matrix(1 0 0 1 86.5 36)"/><use href="#L" class="c" transform="matrix(1 0 0 .9 86.5 45)"/><use href="#A" class="a" transform="matrix(1 0 0 .9 86.5 54)"/><use href="#K" class="b" transform="matrix(1 0 0 .8 86.5 62)"/><use href="#E" class="b" transform="matrix(1 0 0 .8 86.5 70)"/><use href="#N" class="b" transform="matrix(1 0 0 .5 86.5 75)"/>
<use href="#N" class="b" transform="matrix(1 0 0 1.2 103.8 12)"/><use href="#T" class="a" transform="matrix(1 0 0 1 103.8 22)"/><use href="#L" class="c" transform="matrix(1 0 0 1 103.8 32)"/><use href="#K" class="b" transform="matrix(1 0 0 .9 103.8 41)"/><use href="#A" class="a" transform="matrix(1 0 0 .9 103.8 50)"/><use href="#S" class="a" transform="matrix(1 0 0 .9 103.8 59)"/><use href="#E" class="b" transform="matrix(1 0 0 .8 103.8 67)"/><use href="#V" class="c" transform="matrix(1 0 0 .8 103.8 75)"/>
<use href="#S" class="d" transform="matrix(1 0 0 7.5 121.1 75)"/><use href="#T" class="d" transform="matrix(1 0 0 2.5 121.1 100)"/>
<use href="#N" class="b" transform="matrix(1 0 0 1.5 138.4 15)"/><use href="#S" class="a" transform="matrix(1 0 0 1.2 138.4 27)"/><use href="#A" class="a" transform="matrix(1 0 0 1 138.4 37)"/><use href="#E" class="b" transform="matrix(1 0 0 .9 138.4 46)"/><use href="#R" class="b" transform="matrix(1 0 0 .8 138.4 54)"/><use href="#P" class="a" transform="matrix(1 0 0 .8 138.4 62)"/><use href="#V" class="c" transform="matrix(1 0 0 .7 138.4 69)"/><use href="#T" class="a" transform="matrix(1 0 0 .6 138.4 75)"/>
<use href="#S" class="a" transform="matrix(1 0 0 1.5 155.7 15)"/><use href="#N" class="b" transform="matrix(1 0 0 1 155.7 25)"/><use href="#T" class="a" transform="matrix(1 0 0 1 155.7 35)"/><use href="#D" class="b" transform="matrix(1 0 0 .9 155.7 44)"/><use href="#I" class="c" transform="matrix(1 0 0 .8 155.7 52)"/><use href="#A" class="a" transform="matrix(1 0 0 .8 155.7 60)"/><use href="#E" class="b" transform="matrix(1 0 0 .8 155.7 68)"/><use href="#K" class="b" transform="matrix(1 0 0 .7 155.7 75)"/>
<use href="#S" class="a" transform="matrix(1 0 0 1.5 173 15)"/><use href="#N" class="b" transform="matrix(1 0 0 1 173 25)"/><use href="#A" class="a" transform="matrix(1 0 0 1 173 35)"/><use href="#T" class="a" transform="matrix(1 0 0 .9 173 44)"/><use href="#L" class="c" transform="matrix(1 0 0 .9 173 53)"/><use href="#P" class="a" transform="matrix(1 0 0 .9 173 62)"/><use href="#E" class="b" transform="matrix(1 0 0 .8 173 70)"/><use href="#R" class="b" transform="matrix(1 0 0 .5 173 75)"/>
<use href="#S" class="a" transform="matrix(1 0 0 1.5 190.3 15)"/><use href="#T" class="a" transform="matrix(1 0 0 1.2 190.3 27)"/><use href="#A" class="a" transform="matrix(1 0 0 1 190.3 37)"/><use href="#N" class="b" transform="matrix(1 0 0 .9 190.3 46)"/><use href="#P" class="a" transform="matrix(1 0 0 .9 190.3 55)"/><use href="#R" class="b" transform="matrix(1 0 0 .8 190.3 63)"/><use href="#D" class="b" transform="matrix(1 0 0 .8 190.3 71)"/><use href="#K" class="b" transform="matrix(1 0 0 .4 190.3 75)"/>
<use href="#S" class="a" transform="matrix(1 0 0 1.5 207.6 15)"/><use href="#N" class="b" transform="matrix(1 0 0 1 207.6 25)"/><use href="#A" class="a" transform="matrix(1 0 0 1 207.6 35)"/><use href="#P" class="a" transform="matrix(1 0 0 1 207.6 45)"/><use href="#R" class="b" transform="matrix(1 0 0 .9 207.6 54)"/><use href="#E" class="b" transform="matrix(1 0 0 .8 207.6 62)"/><use href="#K" class="b" transform="matrix(1 0 0 .8 207.6 70)"/><use href="#T" class="a" transform="matrix(1 0 0 .5 207.6 75)"/>
<use href="#P" class="a" transform="matrix(1 0 0 1.5 224.9 15)"/><use href="#S" class="a" transform="matrix(1 0 0 1 224.9 25)"/><use href="#L" class="c" transform="matrix(1 0 0 .9 224.9 34)"/><use href="#N" class="b" transform="matrix(1 0 0 1 224.9 44)"/><use href="#R" class="b" transform="matrix(1 0 0 .9 224.9 53)"/><use href="#E" class="b" transform="matrix(1 0 0 .9 224.9 62)"/><use href="#K" class="b" transform="matrix(1 0 0 .8 224.9 70)"/><use href="#A" class="a" transform="matrix(1 0 0 .5 224.9 75)"/>
<use href="#S" class="a" transform="matrix(1 0 0 1.5 242.2 15)"/><use href="#N" class="b" transform="matrix(1 0 0 1 242.2 25)"/><use href="#Q" class="b" transform="matrix(1 0 0 .9 242.2 34)"/><use href="#D" class="b" transform="matrix(1 0 0 .9 242.2 43)"/><use href="#K" class="b" transform="matrix(1 0 0 .9 242.2 52)"/><use href="#L" class="c" transform="matrix(1 0 0 .9 242.2 61)"/><use href="#A" class="a" transform="matrix(1 0 0 .8 242.2 69)"/><use href="#T" class="a" transform="matrix(1 0 0 .6 242.2 75)"/>
</g></g>

<g id="logo-slt2" transform="translate(512.25,1324)">
<use href="#ax"/>
<text class="ty" x="-8" y="3">1.0</text><text class="ty" x="-8" y="46.5">0.5</text><text class="ty" x="-8" y="90">0.0</text>
<text class="tp" transform="translate(-25,43.5)rotate(-90)">probability</text>
<text class="tx" x="76.95" y="97">5</text><text class="tx" x="163.45" y="97">10</text><text class="tx" x="249.95" y="97">15</text>
<g transform="scale(1,.87)">
<rect x="0" y="75" width="119.3" height="25" fill="url(#rs)"/><rect x="138.4" y="75" width="119.3" height="25" fill="url(#rs)"/>
<use href="#S" class="a" transform="matrix(1 0 0 1.5 0 15)"/><use href="#E" class="b" transform="matrix(1 0 0 1.2 0 27)"/><use href="#L" class="c" transform="matrix(1 0 0 .9 0 36)"/><use href="#P" class="a" transform="matrix(1 0 0 .9 0 45)"/><use href="#N" class="b" transform="matrix(1 0 0 .8 0 53)"/><use href="#D" class="b" transform="matrix(1 0 0 .8 0 61)"/><use href="#M" class="c" transform="matrix(1 0 0 .7 0 68)"/><use href="#R" class="b" transform="matrix(1 0 0 .7 0 75)"/>
<use href="#P" class="a" transform="matrix(1 0 0 1.4 17.3 14)"/><use href="#S" class="a" transform="matrix(1 0 0 1 17.3 24)"/><use href="#V" class="c" transform="matrix(1 0 0 1.2 17.3 36)"/><use href="#G" class="a" transform="matrix(1 0 0 .8 17.3 44)"/><use href="#L" class="c" transform="matrix(1 0 0 .8 17.3 52)"/><use href="#A" class="a" transform="matrix(1 0 0 .8 17.3 60)"/><use href="#N" class="b" transform="matrix(1 0 0 .8 17.3 68)"/><use href="#E" class="b" transform="matrix(1 0 0 .7 17.3 75)"/>
<use href="#L" class="f" transform="matrix(1 0 0 4.5 34.6 45)"/><use href="#P" class="a" transform="matrix(1 0 0 .9 34.6 54)"/><use href="#S" class="a" transform="matrix(1 0 0 .8 34.6 62)"/><use href="#K" class="b" transform="matrix(1 0 0 .8 34.6 70)"/><use href="#T" class="a" transform="matrix(1 0 0 .5 34.6 75)"/>
<use href="#T" class="d" transform="matrix(1 0 0 1.7 51.9 17)"/><use href="#A" class="a" transform="matrix(1 0 0 1 51.9 27)"/><use href="#L" class="c" transform="matrix(1 0 0 .9 51.9 36)"/><use href="#K" class="b" transform="matrix(1 0 0 .9 51.9 45)"/><use href="#N" class="b" transform="matrix(1 0 0 .9 51.9 54)"/><use href="#S" class="a" transform="matrix(1 0 0 .8 51.9 62)"/><use href="#E" class="b" transform="matrix(1 0 0 .8 51.9 70)"/><use href="#V" class="c" transform="matrix(1 0 0 .5 51.9 75)"/>
<use href="#P" class="d" transform="matrix(1 0 0 1.6 69.2 16)"/><use href="#S" class="a" transform="matrix(1 0 0 1.2 69.2 28)"/><use href="#T" class="a" transform="matrix(1 0 0 1 69.2 38)"/><use href="#N" class="b" transform="matrix(1 0 0 1 69.2 48)"/><use href="#I" class="c" transform="matrix(1 0 0 .8 69.2 56)"/><use href="#K" class="b" transform="matrix(1 0 0 .8 69.2 64)"/><use href="#E" class="b" transform="matrix(1 0 0 1.1 69.2 75)"/>
<use href="#S" class="a" transform="matrix(1 0 0 1.6 86.5 16)"/><use href="#T" class="a" transform="matrix(1 0 0 1.2 86.5 28)"/><use href="#K" class="b" transform="matrix(1 0 0 .8 86.5 36)"/><use href="#E" class="b" transform="matrix(1 0 0 1 86.5 46)"/><use href="#N" class="b" transform="matrix(1 0 0 .9 86.5 55)"/><use href="#L" class="c" transform="matrix(1 0 0 .8 86.5 63)"/><use href="#A" class="a" transform="matrix(1 0 0 1.2 86.5 75)"/>
<use href="#S" class="a" transform="matrix(1 0 0 1.4 103.8 14)"/><use href="#K" class="b" transform="matrix(1 0 0 1 103.8 24)"/><use href="#T" class="a" transform="matrix(1 0 0 .9 103.8 33)"/><use href="#E" class="b" transform="matrix(1 0 0 .9 103.8 42)"/><use href="#Q" class="b" transform="matrix(1 0 0 .8 103.8 50)"/><use href="#R" class="b" transform="matrix(1 0 0 .8 103.8 58)"/><use href="#P" class="a" transform="matrix(1 0 0 .8 103.8 66)"/><use href="#A" class="a" transform="matrix(1 0 0 .9 103.8 75)"/>
<use href="#S" class="d" transform="matrix(1 0 0 7.5 121.1 75)"/><use href="#T" class="d" transform="matrix(1 0 0 2.5 121.1 100)"/>
<use href="#N" class="b" transform="matrix(1 0 0 1.4 138.4 14)"/><use href="#A" class="a" transform="matrix(1 0 0 1.2 138.4 26)"/><use href="#Q" class="b" transform="matrix(1 0 0 1 138.4 36)"/><use href="#E" class="b" transform="matrix(1 0 0 .9 138.4 45)"/><use href="#G" class="a" transform="matrix(1 0 0 .8 138.4 53)"/><use href="#R" class="b" transform="matrix(1 0 0 .8 138.4 61)"/><use href="#K" class="b" transform="matrix(1 0 0 .8 138.4 69)"/><use href="#P" class="a" transform="matrix(1 0 0 .6 138.4 75)"/>
<use href="#S" class="a" transform="matrix(1 0 0 1.6 155.7 16)"/><use href="#T" class="a" transform="matrix(1 0 0 1 155.7 26)"/><use href="#K" class="b" transform="matrix(1 0 0 .9 155.7 35)"/><use href="#R" class="b" transform="matrix(1 0 0 .9 155.7 44)"/><use href="#A" class="a" transform="matrix(1 0 0 .9 155.7 53)"/><use href="#E" class="b" transform="matrix(1 0 0 .9 155.7 62)"/><use href="#G" class="a" transform="matrix(1 0 0 .8 155.7 70)"/><use href="#P" class="a" transform="matrix(1 0 0 .5 155.7 75)"/>
<use href="#N" class="b" transform="matrix(1 0 0 1.4 173 14)"/><use href="#V" class="c" transform="matrix(1 0 0 1 173 24)"/><use href="#E" class="b" transform="matrix(1 0 0 .9 173 33)"/><use href="#R" class="b" transform="matrix(1 0 0 .9 173 42)"/><use href="#F" class="c" transform="matrix(1 0 0 .9 173 51)"/><use href="#K" class="b" transform="matrix(1 0 0 .8 173 59)"/><use href="#T" class="a" transform="matrix(1 0 0 .8 173 67)"/><use href="#S" class="a" transform="matrix(1 0 0 .8 173 75)"/>
<use href="#E" class="b" transform="matrix(1 0 0 1.4 190.3 14)"/><use href="#T" class="a" transform="matrix(1 0 0 .9 190.3 23)"/><use href="#N" class="b" transform="matrix(1 0 0 1 190.3 33)"/><use href="#D" class="b" transform="matrix(1 0 0 .9 190.3 42)"/><use href="#G" class="a" transform="matrix(1 0 0 .9 190.3 51)"/><use href="#R" class="b" transform="matrix(1 0 0 .9 190.3 60)"/><use href="#K" class="b" transform="matrix(1 0 0 .8 190.3 68)"/><use href="#S" class="a" transform="matrix(1 0 0 .7 190.3 75)"/>
<use href="#I" class="c" transform="matrix(1 0 0 1 207.6 10)"/><use href="#P" class="a" transform="matrix(1 0 0 .9 207.6 19)"/><use href="#N" class="b" transform="matrix(1 0 0 1 207.6 29)"/><use href="#G" class="a" transform="matrix(1 0 0 1 207.6 39)"/><use href="#H" class="b" transform="matrix(1 0 0 .8 207.6 47)"/><use href="#R" class="b" transform="matrix(1 0 0 .9 207.6 56)"/><use href="#M" class="c" transform="matrix(1 0 0 .8 207.6 64)"/><use href="#Q" class="b" transform="matrix(1 0 0 1.1 207.6 75)"/>
<use href="#P" class="a" transform="matrix(1 0 0 1.6 224.9 16)"/><use href="#G" class="a" transform="matrix(1 0 0 1 224.9 26)"/><use href="#Q" class="b" transform="matrix(1 0 0 1 224.9 36)"/><use href="#S" class="a" transform="matrix(1 0 0 .9 224.9 45)"/><use href="#T" class="a" transform="matrix(1 0 0 .9 224.9 54)"/><use href="#N" class="b" transform="matrix(1 0 0 .8 224.9 62)"/><use href="#R" class="b" transform="matrix(1 0 0 .8 224.9 70)"/><use href="#K" class="b" transform="matrix(1 0 0 .5 224.9 75)"/>
<use href="#S" class="a" transform="matrix(1 0 0 1.6 242.2 16)"/><use href="#G" class="a" transform="matrix(1 0 0 1 242.2 26)"/><use href="#R" class="b" transform="matrix(1 0 0 1 242.2 36)"/><use href="#T" class="a" transform="matrix(1 0 0 .9 242.2 45)"/><use href="#F" class="c" transform="matrix(1 0 0 .8 242.2 53)"/><use href="#K" class="b" transform="matrix(1 0 0 .8 242.2 61)"/><use href="#N" class="b" transform="matrix(1 0 0 .8 242.2 69)"/><use href="#E" class="b" transform="matrix(1 0 0 .6 242.2 75)"/>
</g></g>

<g id="logo-atg1b" transform="translate(947.25,1324)">
<use href="#ax"/>
<text class="ty" x="-8" y="3">1.0</text><text class="ty" x="-8" y="46.5">0.5</text><text class="ty" x="-8" y="90">0.0</text>
<text class="tp" transform="translate(-25,43.5)rotate(-90)">probability</text>
<text class="tx" x="76.95" y="97">5</text><text class="tx" x="163.45" y="97">10</text><text class="tx" x="249.95" y="97">15</text>
<g transform="scale(1,.87)">
<rect x="0" y="75" width="119.3" height="25" fill="url(#rs)"/><rect x="138.4" y="75" width="119.3" height="25" fill="url(#rs)"/>
<use href="#A" class="a" transform="matrix(1 0 0 1.4 0 14)"/><use href="#D" class="b" transform="matrix(1 0 0 1 0 24)"/><use href="#E" class="b" transform="matrix(1 0 0 1 0 34)"/><use href="#G" class="a" transform="matrix(1 0 0 .9 0 43)"/><use href="#P" class="a" transform="matrix(1 0 0 .9 0 52)"/><use href="#R" class="b" transform="matrix(1 0 0 .9 0 61)"/><use href="#S" class="a" transform="matrix(1 0 0 .9 0 70)"/><use href="#T" class="a" transform="matrix(1 0 0 .5 0 75)"/>
<use href="#S" class="a" transform="matrix(1 0 0 1.5 17.3 15)"/><use href="#A" class="a" transform="matrix(1 0 0 1.2 17.3 27)"/><use href="#F" class="c" transform="matrix(1 0 0 .9 17.3 36)"/><use href="#G" class="a" transform="matrix(1 0 0 .8 17.3 44)"/><use href="#L" class="c" transform="matrix(1 0 0 .8 17.3 52)"/><use href="#Q" class="b" transform="matrix(1 0 0 .8 17.3 60)"/><use href="#T" class="a" transform="matrix(1 0 0 .8 17.3 68)"/><use href="#N" class="b" transform="matrix(1 0 0 .7 17.3 75)"/>
<use href="#E" class="e" transform="matrix(1 0 0 3 34.6 30)"/><use href="#T" class="a" transform="matrix(1 0 0 .9 34.6 39)"/><use href="#N" class="e" transform="matrix(1 0 0 2.8 34.6 67)"/><use href="#L" class="c" transform="matrix(1 0 0 .8 34.6 75)"/>
<use href="#P" class="a" transform="matrix(1 0 0 1.5 51.9 15)"/><use href="#T" class="a" transform="matrix(1 0 0 1.2 51.9 27)"/><use href="#A" class="a" transform="matrix(1 0 0 .9 51.9 36)"/><use href="#E" class="b" transform="matrix(1 0 0 .9 51.9 45)"/><use href="#I" class="c" transform="matrix(1 0 0 .9 51.9 54)"/><use href="#L" class="c" transform="matrix(1 0 0 .9 51.9 63)"/><use href="#S" class="a" transform="matrix(1 0 0 1.2 51.9 75)"/>
<use href="#A" class="a" transform="matrix(1 0 0 1.5 69.2 15)"/><use href="#S" class="a" transform="matrix(1 0 0 1 69.2 25)"/><use href="#N" class="b" transform="matrix(1 0 0 .9 69.2 34)"/><use href="#E" class="b" transform="matrix(1 0 0 .9 69.2 43)"/><use href="#L" class="c" transform="matrix(1 0 0 .9 69.2 52)"/><use href="#P" class="a" transform="matrix(1 0 0 .9 69.2 61)"/><use href="#T" class="a" transform="matrix(1 0 0 .9 69.2 70)"/><use href="#K" class="b" transform="matrix(1 0 0 .5 69.2 75)"/>
<use href="#A" class="a" transform="matrix(1 0 0 1.2 86.5 12)"/><use href="#D" class="b" transform="matrix(1 0 0 1 86.5 22)"/><use href="#F" class="c" transform="matrix(1 0 0 1 86.5 32)"/><use href="#M" class="c" transform="matrix(1 0 0 .9 86.5 41)"/><use href="#N" class="b" transform="matrix(1 0 0 .9 86.5 50)"/><use href="#P" class="a" transform="matrix(1 0 0 .9 86.5 59)"/><use href="#K" class="b" transform="matrix(1 0 0 .8 86.5 67)"/><use href="#T" class="a" transform="matrix(1 0 0 .8 86.5 75)"/>
<use href="#L" class="c" transform="matrix(1 0 0 1.5 103.8 15)"/><use href="#T" class="a" transform="matrix(1 0 0 1.2 103.8 27)"/><use href="#A" class="a" transform="matrix(1 0 0 1 103.8 37)"/><use href="#F" class="c" transform="matrix(1 0 0 .9 103.8 46)"/><use href="#P" class="a" transform="matrix(1 0 0 .9 103.8 55)"/><use href="#K" class="b" transform="matrix(1 0 0 .9 103.8 64)"/><use href="#Q" class="b" transform="matrix(1 0 0 1.1 103.8 75)"/>
<use href="#S" class="d" transform="matrix(1 0 0 7 121.1 70)"/><use href="#T" class="d" transform="matrix(1 0 0 3 121.1 100)"/>
<use href="#P" class="d" transform="matrix(1 0 0 3 138.4 30)"/><use href="#S" class="a" transform="matrix(1 0 0 1.5 138.4 45)"/><use href="#K" class="b" transform="matrix(1 0 0 1 138.4 55)"/><use href="#N" class="b" transform="matrix(1 0 0 1 138.4 65)"/><use href="#L" class="c" transform="matrix(1 0 0 1 138.4 75)"/>
<use href="#A" class="a" transform="matrix(1 0 0 1.5 155.7 15)"/><use href="#P" class="a" transform="matrix(1 0 0 1.2 155.7 27)"/><use href="#R" class="b" transform="matrix(1 0 0 1.2 155.7 39)"/><use href="#L" class="c" transform="matrix(1 0 0 1 155.7 49)"/><use href="#K" class="b" transform="matrix(1 0 0 .9 155.7 58)"/><use href="#Y" class="c" transform="matrix(1 0 0 .9 155.7 67)"/><use href="#T" class="a" transform="matrix(1 0 0 .8 155.7 75)"/>
<use href="#L" class="c" transform="matrix(1 0 0 1.5 173 15)"/><use href="#P" class="a" transform="matrix(1 0 0 1.2 173 27)"/><use href="#E" class="b" transform="matrix(1 0 0 1 173 37)"/><use href="#Q" class="b" transform="matrix(1 0 0 .9 173 46)"/><use href="#S" class="a" transform="matrix(1 0 0 .9 173 55)"/><use href="#T" class="a" transform="matrix(1 0 0 .9 173 64)"/><use href="#N" class="b" transform="matrix(1 0 0 1.1 173 75)"/>
<use href="#S" class="a" transform="matrix(1 0 0 2 190.3 20)"/><use href="#A" class="a" transform="matrix(1 0 0 .9 190.3 29)"/><use href="#T" class="a" transform="matrix(1 0 0 1 190.3 39)"/><use href="#M" class="c" transform="matrix(1 0 0 .9 190.3 48)"/><use href="#R" class="b" transform="matrix(1 0 0 .9 190.3 57)"/><use href="#Q" class="b" transform="matrix(1 0 0 .9 190.3 66)"/><use href="#N" class="b" transform="matrix(1 0 0 .9 190.3 75)"/>
<use href="#S" class="a" transform="matrix(1 0 0 1.5 207.6 15)"/><use href="#A" class="a" transform="matrix(1 0 0 1 207.6 25)"/><use href="#P" class="a" transform="matrix(1 0 0 1 207.6 35)"/><use href="#Q" class="b" transform="matrix(1 0 0 .9 207.6 44)"/><use href="#R" class="b" transform="matrix(1 0 0 .9 207.6 53)"/><use href="#T" class="a" transform="matrix(1 0 0 .9 207.6 62)"/><use href="#N" class="b" transform="matrix(1 0 0 1.3 207.6 75)"/>
<use href="#Q" class="b" transform="matrix(1 0 0 1.5 224.9 15)"/><use href="#A" class="a" transform="matrix(1 0 0 1 224.9 25)"/><use href="#I" class="c" transform="matrix(1 0 0 .9 224.9 34)"/><use href="#K" class="b" transform="matrix(1 0 0 1 224.9 44)"/><use href="#L" class="c" transform="matrix(1 0 0 1 224.9 54)"/><use href="#N" class="b" transform="matrix(1 0 0 .9 224.9 63)"/><use href="#R" class="b" transform="matrix(1 0 0 1.2 224.9 75)"/>
<use href="#A" class="a" transform="matrix(1 0 0 1.5 242.2 15)"/><use href="#D" class="b" transform="matrix(1 0 0 1 242.2 25)"/><use href="#H" class="b" transform="matrix(1 0 0 1 242.2 35)"/><use href="#K" class="b" transform="matrix(1 0 0 1 242.2 45)"/><use href="#L" class="c" transform="matrix(1 0 0 1 242.2 55)"/><use href="#R" class="b" transform="matrix(1 0 0 .9 242.2 64)"/><use href="#S" class="a" transform="matrix(1 0 0 1.1 242.2 75)"/>
</g></g>

<!-- CONNECTORS -->
<g id="connectors" class="E">
<g class="er">
<path d="M419,507L39,146"/><path d="M419,507L83,146"/><path d="M419,507L126,146"/><path d="M419,507L170,146"/><path d="M419,507L213,148"/><path d="M419,507L39,190"/><path d="M419,507L83,190"/><path d="M419,507L126,190"/><path d="M419,507L170,190"/><path d="M419,507L213,190"/><path d="M419,507L39,235"/><path d="M419,507L83,235"/><path d="M419,507L126,235"/><path d="M419,507L170,235"/><path d="M419,507L213,235"/><path d="M419,507L39,280"/><path d="M419,507L83,280"/><path d="M419,507L127,280"/><path d="M419,507L170,280"/><path d="M419,507L214,280"/><path d="M419,507L39,323"/><path d="M419,507L83,324"/><path d="M419,507L127,323"/><path d="M419,507L170,325"/><path d="M419,507L214,324"/><path d="M419,507L39,368"/>
<path d="M419,507L533,143"/><path d="M419,507L581,143"/><path d="M419,507L628,141"/><path d="M419,507L676,143"/><path d="M419,507L723,143"/><path d="M419,507L533,181"/><path d="M419,507L581,181"/><path d="M419,507L628,183"/><path d="M419,507L676,181"/><path d="M419,507L723,181"/><path d="M419,507L533,219"/><path d="M419,507L581,219"/><path d="M419,507L628,219"/><path d="M419,507L676,220"/><path d="M419,507L723,218"/><path d="M419,507L533,257"/><path d="M419,507L581,257"/><path d="M419,507L628,256"/><path d="M419,507L676,256"/><path d="M419,507L723,256"/><path d="M419,507L533,295"/><path d="M419,507L581,295"/><path d="M419,507L628,295"/><path d="M419,507L676,295"/><path d="M419,507L723,295"/><path d="M419,507L533,333"/><path d="M419,507L581,333"/><path d="M419,507L628,333"/><path d="M419,507L676,333"/><path d="M419,507L723,333"/><path d="M419,507L533,371"/><path d="M419,507L581,369"/><path d="M419,507L628,371"/><path d="M419,507L676,371"/>
<path d="M419,507L547,475"/><path d="M419,507L596,475"/><path d="M419,507L644,475"/><path d="M419,507L488,575"/><path d="M419,507L532,586"/><path d="M419,507L488,617"/><path d="M419,507L532,628"/><path d="M419,507L492,657"/><path d="M419,507L605,595"/><path d="M419,507L653,595"/><path d="M419,507L372,592"/><path d="M419,507L608,714"/><path d="M419,507L657,716"/><path d="M419,507L803,595"/><path d="M419,507L613,867"/>
</g>
<g class="ey">
<path d="M803,507L953,146"/><path d="M803,507L997,146"/><path d="M803,507L1041,146"/><path d="M803,507L953,185"/><path d="M803,507L997,185"/><path d="M803,507L1043,185"/><path d="M803,507L953,223"/><path d="M803,507L997,223"/><path d="M803,507L1041,223"/><path d="M803,507L953,262"/><path d="M803,507L997,262"/><path d="M803,507L1041,262"/><path d="M803,507L953,300"/><path d="M803,507L997,300"/><path d="M803,507L1041,300"/><path d="M803,507L953,342"/><path d="M803,507L997,342"/>
<path d="M803,507L533,143"/><path d="M803,507L581,143"/><path d="M803,507L628,141"/><path d="M803,507L676,143"/><path d="M803,507L723,143"/><path d="M803,507L533,181"/><path d="M803,507L581,181"/><path d="M803,507L628,183"/><path d="M803,507L676,181"/><path d="M803,507L723,181"/><path d="M803,507L533,219"/><path d="M803,507L581,219"/><path d="M803,507L628,219"/><path d="M803,507L676,220"/><path d="M803,507L723,218"/><path d="M803,507L533,257"/><path d="M803,507L581,257"/><path d="M803,507L628,256"/><path d="M803,507L676,256"/><path d="M803,507L723,256"/><path d="M803,507L533,295"/><path d="M803,507L581,295"/><path d="M803,507L628,295"/><path d="M803,507L676,295"/><path d="M803,507L723,295"/><path d="M803,507L533,333"/><path d="M803,507L581,333"/><path d="M803,507L628,333"/><path d="M803,507L676,333"/><path d="M803,507L723,333"/><path d="M803,507L533,371"/><path d="M803,507L581,369"/><path d="M803,507L628,371"/><path d="M803,507L676,371"/>
<path d="M803,507L881,527"/><path d="M803,507L842,562"/><path d="M803,507L803,595"/><path d="M803,507L605,595"/><path d="M803,507L653,595"/><path d="M803,507L613,867"/><path d="M803,507L613,920"/><path d="M803,507L613,981"/><path d="M803,507L628,1143"/><path d="M803,507L691,475"/>
</g>
<g class="eg">
<path d="M420,687L33,614"/><path d="M420,687L79,615"/><path d="M420,687L124,615"/><path d="M420,683L124,611"/><path d="M420,687L33,657"/><path d="M420,687L79,658"/><path d="M420,687L126,658"/><path d="M420,684L126,655"/><path d="M420,687L33,697"/><path d="M420,687L79,699"/><path d="M420,687L126,700"/><path d="M420,690L126,703"/><path d="M420,687L33,740"/><path d="M420,687L79,741"/><path d="M420,691L79,745"/>
<path d="M420,687L372,592"/><path d="M420,687L353,722"/><path d="M420,687L326,748"/><path d="M420,687L362,768"/><path d="M420,687L610,767"/>
</g>
<g class="ea">
<path d="M420,687L808,687" style="marker-end:none;stroke:#3d5f96"/>
<path d="M808,687L959,478"/><path d="M808,687L1003,478"/><path d="M808,687L1046,478"/><path d="M808,687L1090,478"/><path d="M808,687L1134,478"/><path d="M808,687L1177,478"/><path d="M808,687L1221,478"/><path d="M808,687L1265,478"/>
<path d="M808,687L959,518"/><path d="M808,687L1003,518"/><path d="M808,687L1046,518"/><path d="M808,687L1090,518"/><path d="M808,687L1134,518"/><path d="M808,687L1177,518"/><path d="M808,687L1221,518"/><path d="M808,687L1265,518"/>
<path d="M808,687L959,558"/><path d="M808,687L1003,558"/><path d="M808,687L1046,558"/><path d="M808,687L1090,558"/><path d="M808,687L1134,558"/><path d="M808,687L1177,558"/><path d="M808,687L1221,558"/><path d="M808,687L1265,558"/>
<path d="M808,687L959,598"/><path d="M808,687L1003,598"/><path d="M808,687L1046,598"/><path d="M808,687L1090,598"/><path d="M808,687L1134,598"/><path d="M808,687L1177,598"/><path d="M808,687L1221,598"/><path d="M808,687L1265,598"/>
<path d="M808,687L959,638"/><path d="M808,687L1003,638"/><path d="M808,687L1046,638"/><path d="M808,687L1090,638"/><path d="M808,687L1134,638"/><path d="M808,687L1177,638"/><path d="M808,687L1221,638"/><path d="M808,687L1265,638"/>
<path d="M808,687L959,678"/><path d="M808,687L1003,678"/><path d="M808,687L1046,678"/><path d="M808,687L1090,678"/><path d="M808,687L1134,678"/><path d="M808,687L1177,678"/><path d="M808,687L1221,678"/><path d="M808,687L1265,678"/>
<path d="M808,687L959,718"/><path d="M808,687L1003,718"/><path d="M808,687L1046,718"/><path d="M808,687L1090,718"/><path d="M808,687L1134,718"/><path d="M808,687L1177,718"/><path d="M808,687L1221,718"/><path d="M808,687L1265,718"/>
<path d="M808,687L959,758"/><path d="M808,687L1003,758"/><path d="M808,687L1046,758"/><path d="M808,687L1090,758"/><path d="M808,687L1134,758"/><path d="M808,687L1177,758"/><path d="M808,687L1221,758"/><path d="M808,687L1265,758"/>
<path d="M808,687L959,798"/><path d="M808,687L1003,798"/><path d="M808,687L1046,798"/><path d="M808,687L1090,798"/><path d="M808,687L1134,798"/><path d="M808,687L1177,798"/><path d="M808,687L1221,798"/><path d="M808,687L1265,798"/>
<path d="M808,687L959,837"/><path d="M808,687L1003,837"/><path d="M808,687L1046,837"/><path d="M808,687L1090,837"/><path d="M808,687L1134,837"/><path d="M808,687L1177,839"/><path d="M808,687L1221,837"/><path d="M808,687L1265,837"/>
<path d="M808,687L959,878"/><path d="M808,687L1003,878"/>
<path d="M808,687L547,475"/><path d="M808,687L596,475"/><path d="M808,687L644,475"/><path d="M808,687L691,475"/><path d="M808,687L532,628"/><path d="M808,687L657,716"/><path d="M808,687L881,527"/><path d="M808,687L842,562"/><path d="M808,687L803,595"/><path d="M808,687L809,764"/>
</g>
<g class="en">
<path d="M424,833L38,950"/><path d="M424,833L87,950"/><path d="M424,833L137,950"/><path d="M424,833L181,950"/><path d="M424,833L230,950"/><path d="M424,833L277,950"/><path d="M424,833L325,950"/><path d="M424,833L366,950"/><path d="M424,833L408,952"/>
<path d="M424,833L37,991"/><path d="M424,833L88,991"/><path d="M424,833L137,991"/><path d="M424,833L181,991"/><path d="M424,833L230,991"/><path d="M424,833L277,991"/><path d="M424,833L325,991"/><path d="M424,833L370,991"/>
<path d="M424,833L37,1031"/><path d="M424,833L88,1031"/><path d="M424,833L137,1031"/><path d="M424,833L181,1031"/><path d="M424,833L230,1031"/><path d="M424,833L277,1031"/><path d="M424,833L325,1031"/><path d="M424,833L370,1031"/>
<path d="M424,833L37,1071"/><path d="M424,833L88,1071"/><path d="M424,833L137,1071"/><path d="M424,833L181,1071"/><path d="M424,833L230,1071"/><path d="M424,833L277,1071"/><path d="M424,833L325,1071"/><path d="M424,833L370,1071"/>
<path d="M424,833L37,1110"/><path d="M424,833L88,1110"/><path d="M424,833L137,1110"/><path d="M424,833L181,1110"/><path d="M424,833L230,1110"/><path d="M424,833L277,1110"/><path d="M424,833L325,1110"/><path d="M424,833L370,1110"/>
<path d="M424,833L37,1151"/><path d="M424,833L88,1151"/><path d="M424,833L137,1151"/><path d="M424,833L181,1151"/><path d="M424,833L230,1151"/><path d="M424,833L277,1151"/><path d="M424,833L325,1151"/><path d="M424,833L370,1151"/>
<path d="M424,833L37,1190"/><path d="M424,833L88,1190"/><path d="M424,833L137,1190"/><path d="M424,833L181,1190"/><path d="M424,833L230,1190"/><path d="M424,833L277,1190"/><path d="M424,833L325,1190"/><path d="M424,833L370,1190"/>
<path d="M424,833L37,1229"/><path d="M424,833L88,1229"/><path d="M424,833L137,1229"/><path d="M424,833L181,1229"/><path d="M424,833L230,1229"/><path d="M424,833L277,1229"/><path d="M424,833L325,1229"/><path d="M424,833L370,1229"/>
<path d="M424,833L37,1269"/><path d="M424,833L88,1269"/><path d="M424,833L137,1269"/><path d="M424,833L181,1269"/><path d="M424,833L230,1269"/><path d="M424,833L277,1269"/><path d="M424,833L325,1269"/><path d="M424,833L370,1269"/>
<path d="M424,833L362,768"/><path d="M424,833L353,722"/><path d="M424,833L492,657"/><path d="M424,833L532,628"/><path d="M424,833L488,617"/><path d="M424,833L488,575"/><path d="M424,833L532,586"/><path d="M424,833L605,595"/><path d="M424,833L653,595"/><path d="M424,833L608,714"/><path d="M424,833L610,767"/><path d="M424,833L657,716"/><path d="M424,833L809,764"/><path d="M424,833L613,867"/><path d="M424,833L613,920"/><path d="M424,833L613,981"/>
<path d="M424,833L579,1143"/><path d="M424,833L628,1143"/><path d="M424,833L678,1143"/><path d="M424,833L579,1183"/><path d="M424,833L628,1183"/><path d="M424,833L678,1180"/><path d="M424,833L579,1224"/><path d="M424,833L628,1225"/><path d="M424,833L678,1223"/><path d="M424,833L579,1264"/><path d="M424,833L628,1264"/><path d="M424,833L678,1264"/>
<path d="M424,833L803,595"/><path d="M424,833L842,562"/><path d="M424,833L881,527"/>
</g>
<g class="es">
<path d="M811,832L579,1143"/><path d="M811,832L628,1143"/><path d="M811,832L678,1143"/><path d="M811,832L579,1183"/><path d="M811,832L628,1183"/><path d="M811,832L678,1180"/><path d="M811,832L579,1224"/><path d="M811,832L628,1225"/><path d="M811,832L678,1223"/><path d="M811,832L579,1264"/><path d="M811,832L628,1264"/><path d="M811,832L678,1264"/>
<path d="M811,832L944,1178"/><path d="M811,832L989,1178"/><path d="M811,832L944,1224"/><path d="M811,832L989,1224"/><path d="M811,832L989,1270"/>
<path d="M811,832L605,595"/><path d="M811,832L653,595"/><path d="M811,832L608,714"/><path d="M811,832L657,716"/><path d="M811,832L610,767"/>
</g>
</g>

<!-- NODES -->
<g id="nodes" class="N">
<g id="n-Pik1" class="rl"><circle cx="39" cy="146" r="18"/><text x="39" y="150">Pik1</text></g>
<g id="n-Chd1" class="rl"><circle cx="83" cy="146" r="18"/><text x="83" y="150">Chd1</text></g>
<g id="n-Yer079W" class="rl"><circle cx="126" cy="146" r="18"/><text x="126" y="150">Yer079W</text></g>
<g id="n-Cds1" class="rl"><circle cx="170" cy="146" r="18"/><text x="170" y="150">Cds1</text></g>
<g id="n-Cmr1" class="rl"><circle cx="213" cy="148" r="18"/><text x="213" y="152">Cmr1</text></g>
<g id="n-Nop8" class="rl"><circle cx="39" cy="190" r="18"/><text x="39" y="194">Nop8</text></g>
<g id="n-Ubx7" class="rl"><circle cx="83" cy="190" r="18"/><text x="83" y="194">Ubx7</text></g>
<g id="n-Yor296W" class="rl"><circle cx="126" cy="190" r="18"/><text x="126" y="194">Yor296W</text></g>
<g id="n-Ifh1" class="rl"><circle cx="170" cy="190" r="18"/><text x="170" y="194">Ifh1</text></g>
<g id="n-Rtt106" class="rl"><circle cx="213" cy="190" r="18"/><text x="213" y="194">Rtt106</text></g>
<g id="n-Siz1" class="rl"><circle cx="39" cy="235" r="18"/><text x="39" y="239">Siz1</text></g>
<g id="n-Fun30" class="rl"><circle cx="83" cy="235" r="18"/><text x="83" y="239">Fun30</text></g>
<g id="n-Oaf1" class="rl"><circle cx="126" cy="235" r="18"/><text x="126" y="239">Oaf1</text></g>
<g id="n-Eaf1" class="rl"><circle cx="170" cy="235" r="18"/><text x="170" y="239">Eaf1</text></g>
<g id="n-Lsg1" class="rl"><circle cx="213" cy="235" r="18"/><text x="213" y="239">Lsg1</text></g>
<g id="n-Ksp1" class="rl"><circle cx="39" cy="280" r="18"/><text x="39" y="284">Ksp1</text></g>
<g id="n-Ubp13" class="rl"><circle cx="83" cy="280" r="18"/><text x="83" y="284">Ubp13</text></g>
<g id="n-Rsc1" class="mg"><circle cx="127" cy="280" r="18"/><text x="127" y="284">Rsc1</text></g>
<g id="n-Rph1" class="or"><circle cx="170" cy="280" r="18"/><text x="170" y="284">Rph1</text></g>
<g id="n-Igo2" class="rd"><circle cx="214" cy="280" r="18"/><text x="214" y="284">Igo2</text></g>
<g id="n-Has1" class="mg"><circle cx="39" cy="323" r="18"/><text x="39" y="327">Has1</text></g>
<g id="n-Stb3" class="mg"><circle cx="83" cy="324" r="18"/><text x="83" y="328">Stb3</text></g>
<g id="n-Psp2" class="mg"><circle cx="127" cy="323" r="18"/><text x="127" y="327">Psp2</text></g>
<g id="n-Msn4" class="or"><circle cx="170" cy="325" r="18"/><text x="170" y="329">Msn4</text></g>
<g id="n-Igo1" class="rd"><circle cx="214" cy="324" r="18"/><text x="214" y="328">Igo1</text></g>
<g id="n-Gsy1" class="mg"><circle cx="39" cy="368" r="18"/><text x="39" y="372">Gsy1</text></g>

<g id="n-Hol1" class="yl"><circle cx="533" cy="143" r="18"/><text x="533" y="147">Hol1</text></g>
<g id="n-Syh1" class="yl"><circle cx="581" cy="143" r="18"/><text x="581" y="147">Syh1</text></g>
<g id="n-Gln1" class="yl"><circle cx="628" cy="141" r="18"/><text x="628" y="145">Gln1</text></g>
<g id="n-Isw1" class="yl"><circle cx="676" cy="143" r="18"/><text x="676" y="147">Isw1</text></g>
<g id="n-Sqs1" class="yl"><circle cx="723" cy="143" r="18"/><text x="723" y="147">Sqs1</text></g>
<g id="n-Nup1" class="yl"><circle cx="533" cy="181" r="18"/><text x="533" y="185">Nup1</text></g>
<g id="n-Gnp1" class="yl"><circle cx="581" cy="181" r="18"/><text x="581" y="185">Gnp1</text></g>
<g id="n-Hel2" class="yl"><circle cx="628" cy="183" r="18"/><text x="628" y="187">Hel2</text></g>
<g id="n-Puf3" class="yl"><circle cx="676" cy="181" r="18"/><text x="676" y="185">Puf3</text></g>
<g id="n-Bre5" class="yl"><circle cx="723" cy="181" r="18"/><text x="723" y="185">Bre5</text></g>
<g id="n-Not3" class="yl"><circle cx="533" cy="219" r="18"/><text x="533" y="223">Not3</text></g>
<g id="n-Swc3" class="yl"><circle cx="581" cy="219" r="18"/><text x="581" y="223">Swc3</text></g>
<g id="n-Dot6" class="yl"><circle cx="628" cy="219" r="18"/><text x="628" y="223">Dot6</text></g>
<g id="n-Ics2" class="yl"><circle cx="676" cy="220" r="18"/><text x="676" y="224">Ics2</text></g>
<g id="n-Bsc6" class="yl"><circle cx="723" cy="218" r="18"/><text x="723" y="222">Bsc6</text></g>
<g id="n-Yng2" class="yl"><circle cx="533" cy="257" r="18"/><text x="533" y="261">Yng2</text></g>
<g id="n-Lcb4" class="yl"><circle cx="581" cy="257" r="18"/><text x="581" y="261">Lcb4</text></g>
<g id="n-Gal11" class="yl"><circle cx="628" cy="256" r="18"/><text x="628" y="260">Gal11</text></g>
<g id="n-Ltv1" class="yl"><circle cx="676" cy="256" r="18"/><text x="676" y="260">Ltv1</text></g>
<g id="n-Tpo4" class="yl"><circle cx="723" cy="256" r="18"/><text x="723" y="260">Tpo4</text></g>
<g id="n-Stu1" class="yl"><circle cx="533" cy="295" r="18"/><text x="533" y="299">Stu1</text></g>
<g id="n-Rps6A" class="yl"><circle cx="581" cy="295" r="18"/><text x="581" y="299">Rps6A</text></g>
<g id="n-Say1" class="yl"><circle cx="628" cy="295" r="18"/><text x="628" y="299">Say1</text></g>
<g id="n-Nte1" class="yl"><circle cx="676" cy="295" r="18"/><text x="676" y="299">Nte1</text></g>
<g id="n-Nsg2" class="mg"><circle cx="723" cy="295" r="18"/><text x="723" y="299">Nsg2</text></g>
<g id="n-Tsl1" class="mg"><circle cx="533" cy="333" r="18"/><text x="533" y="337">Tsl1</text></g>
<g id="n-Eap1" class="mg"><circle cx="581" cy="333" r="18"/><text x="581" y="337">Eap1</text></g>
<g id="n-Prs5" class="mg"><circle cx="628" cy="333" r="18"/><text x="628" y="337">Prs5</text></g>
<g id="n-Scs2" class="mg"><circle cx="676" cy="333" r="18"/><text x="676" y="337">Scs2</text></g>
<g id="n-Ptk2" class="mg"><circle cx="723" cy="333" r="18"/><text x="723" y="337">Ptk2</text></g>
<g id="n-Gis1" class="mg"><circle cx="533" cy="371" r="18"/><text x="533" y="375">Gis1</text></g>
<g id="n-Isw2" class="mg"><circle cx="581" cy="369" r="18"/><text x="581" y="373">Isw2</text></g>
<g id="n-Gcs1" class="mg"><circle cx="628" cy="371" r="18"/><text x="628" y="375">Gcs1</text></g>
<g id="n-Fol2" class="mg"><circle cx="676" cy="371" r="18"/><text x="676" y="375">Fol2</text></g>

<g id="n-Gup1" class="yb"><circle cx="953" cy="146" r="18"/><text x="953" y="150">Gup1</text></g>
<g id="n-Blm10" class="yb"><circle cx="997" cy="146" r="18"/><text x="997" y="150">Blm10</text></g>
<g id="n-Mih1" class="yb"><circle cx="1041" cy="146" r="18"/><text x="1041" y="150">Mih1</text></g>
<g id="n-Crp1" class="yb"><circle cx="953" cy="185" r="18"/><text x="953" y="189">Crp1</text></g>
<g id="n-Sro9" class="yb"><circle cx="997" cy="185" r="18"/><text x="997" y="189">Sro9</text></g>
<g id="n-Msl5" class="yb"><circle cx="1043" cy="185" r="18"/><text x="1043" y="189">Msl5</text></g>
<g id="n-Jip4" class="yb"><circle cx="953" cy="223" r="18"/><text x="953" y="227">Jip4</text></g>
<g id="n-Avt1" class="yb"><circle cx="997" cy="223" r="18"/><text x="997" y="227">Avt1</text></g>
<g id="n-Rsr1" class="yb"><circle cx="1041" cy="223" r="18"/><text x="1041" y="227">Rsr1</text></g>
<g id="n-Bap2" class="yb"><circle cx="953" cy="262" r="18"/><text x="953" y="266">Bap2</text></g>
<g id="n-Prb1" class="yb"><circle cx="997" cy="262" r="18"/><text x="997" y="266">Prb1</text></g>
<g id="n-Vhc1" class="yb"><circle cx="1041" cy="262" r="18"/><text x="1041" y="266">Vhc1</text></g>
<g id="n-Fab1" class="yb"><circle cx="953" cy="300" r="18"/><text x="953" y="304">Fab1</text></g>
<g id="n-Pog1" class="yb"><circle cx="997" cy="300" r="18"/><text x="997" y="304">Pog1</text></g>
<g id="n-Tco89" class="yb"><circle cx="1041" cy="300" r="18"/><text x="1041" y="304">Tco89</text></g>
<g id="n-Bcy1" class="or"><circle cx="953" cy="342" r="18"/><text x="953" y="346">Bcy1</text></g>
<g id="n-Trk1" class="yb"><circle cx="997" cy="342" r="18"/><text x="997" y="346">Trk1</text></g>

<g id="n-Inp53" class="mg"><circle cx="547" cy="475" r="18"/><text x="547" y="479">Inp53</text></g>
<g id="n-Rbs1" class="gy"><circle cx="596" cy="475" r="18"/><text x="596" y="479">Rbs1</text></g>
<g id="n-Cmp2" class="gy"><circle cx="644" cy="475" r="18"/><text x="644" y="479">Cmp2</text></g>
<g id="n-Spa2" class="mg"><circle cx="691" cy="475" r="18"/><text x="691" y="479">Spa2</text></g>
<g id="n-Yil161W" class="gy"><circle cx="372" cy="592" r="18"/><text x="372" y="596">Yil161W</text></g>
<g id="n-Hip1" class="gy"><circle cx="488" cy="575" r="18"/><text x="488" y="579">Hip1</text></g>
<g id="n-Rsa1" class="gy"><circle cx="532" cy="586" r="18"/><text x="532" y="590">Rsa1</text></g>
<g id="n-Yol087C" class="gy"><circle cx="488" cy="617" r="18"/><text x="488" y="621">Yol087C</text></g>
<g id="n-Mdg1" class="mg"><circle cx="532" cy="628" r="18"/><text x="532" y="632">Mdg1</text></g>
<g id="n-Art1" class="rd rg"><circle cx="492" cy="657" r="18"/><text x="492" y="661">Art1</text></g>
<g id="n-Seg1" class="mg"><circle cx="605" cy="595" r="18"/><text x="605" y="599">Seg1</text></g>
<g id="n-Orm2" class="rd rg"><circle cx="653" cy="595" r="18"/><text x="653" y="599">Orm2</text></g>
<g id="n-Pib2" class="or rg"><circle cx="353" cy="722" r="18"/><text x="353" y="726">Pib2</text></g>
<g id="n-Yck2" class="gy"><circle cx="326" cy="748" r="18"/><text x="326" y="752">Yck2</text></g>
<g id="n-Ygr126W" class="gy"><circle cx="362" cy="768" r="18"/><text x="362" y="772">Ygr126W</text></g>
<g id="n-Tif4632" class="gy"><circle cx="608" cy="714" r="18"/><text x="608" y="718">Tif4632</text></g>
<g id="n-Akl1" class="gy"><circle cx="657" cy="716" r="18"/><text x="657" y="720">Akl1</text></g>
<g id="n-Ded1" class="gy"><circle cx="610" cy="767" r="18"/><text x="610" y="771">Ded1</text></g>
<g id="n-Atg13" class="gy"><circle cx="881" cy="527" r="18"/><text x="881" y="531">Atg13</text></g>
<g id="n-Cab1" class="gy"><circle cx="842" cy="562" r="18"/><text x="842" y="566">Cab1</text></g>
<g id="n-Sis2" class="gy"><circle cx="803" cy="595" r="18"/><text x="803" y="599">Sis2</text></g>
<g id="n-Atg9" class="rd rb"><circle cx="809" cy="764" r="18"/><text x="809" y="768">Atg9</text></g>
<g id="n-Boi1" class="mg"><circle cx="613" cy="867" r="18"/><text x="613" y="871">Boi1</text></g>
<g id="n-Mep2" class="rd rg"><circle cx="613" cy="920" r="18"/><text x="613" y="924">Mep2</text></g>
<g id="n-Ylr257W" class="or rg"><circle cx="613" cy="981" r="18"/><text x="613" y="985">Ylr257W</text></g>

<g id="n-Sap185" class="gb"><circle cx="33" cy="614" r="18"/><text x="33" y="618">Sap185</text></g>
<g id="n-Pat1" class="gb"><circle cx="79" cy="615" r="18"/><text x="79" y="619">Pat1</text></g>
<g id="n-Sui2" class="rd"><circle cx="124" cy="615" r="18"/><text x="124" y="619">Sui2</text></g>
<g id="n-Yar1" class="gb"><circle cx="33" cy="657" r="18"/><text x="33" y="661">Yar1</text></g>
<g id="n-Tpo2" class="gb"><circle cx="79" cy="658" r="18"/><text x="79" y="662">Tpo2</text></g>
<g id="n-Sui3" class="rd"><circle cx="126" cy="658" r="18"/><text x="126" y="662">Sui3</text></g>
<g id="n-Gcn4" class="gb"><circle cx="33" cy="697" r="18"/><text x="33" y="701">Gcn4</text></g>
<g id="n-Gcd6" class="gb"><circle cx="79" cy="699" r="18"/><text x="79" y="703">Gcd6</text></g>
<g id="n-Gcn20" class="rd"><circle cx="126" cy="700" r="18"/><text x="126" y="704">Gcn20</text></g>
<g id="n-Ask10" class="gb"><circle cx="33" cy="740" r="18"/><text x="33" y="744">Ask10</text></g>
<g id="n-Nip1" class="gb"><circle cx="79" cy="741" r="18"/><text x="79" y="745">Nip1</text></g>

<g id="n-Lys12" class="ab"><circle cx="959" cy="478" r="18"/><text x="959" y="482">Lys12</text></g>
<g id="n-Mtc1" class="ab"><circle cx="1003" cy="478" r="18"/><text x="1003" y="482">Mtc1</text></g>
<g id="n-Pmd1" class="ab"><circle cx="1046" cy="478" r="18"/><text x="1046" y="482">Pmd1</text></g>
<g id="n-Pex14" class="ab"><circle cx="1090" cy="478" r="18"/><text x="1090" y="482">Pex14</text></g>
<g id="n-Atg20" class="ab"><circle cx="1134" cy="478" r="18"/><text x="1134" y="482">Atg20</text></g>
<g id="n-Ybt1" class="ab"><circle cx="1177" cy="478" r="18"/><text x="1177" y="482">Ybt1</text></g>
<g id="n-Ald6" class="ab"><circle cx="1221" cy="478" r="18"/><text x="1221" y="482">Ald6</text></g>
<g id="n-Vps30" class="ab"><circle cx="1265" cy="478" r="18"/><text x="1265" y="482">Vps30</text></g>
<g id="n-Rpl36B" class="ab"><circle cx="959" cy="518" r="18"/><text x="959" y="522">Rpl36B</text></g>
<g id="n-Ded81" class="ab"><circle cx="1003" cy="518" r="18"/><text x="1003" y="522">Ded81</text></g>
<g id="n-Snx41" class="ab"><circle cx="1046" cy="518" r="18"/><text x="1046" y="522">Snx41</text></g>
<g id="n-Tcb1" class="ab"><circle cx="1090" cy="518" r="18"/><text x="1090" y="522">Tcb1</text></g>
<g id="n-Mnr2" class="ab"><circle cx="1134" cy="518" r="18"/><text x="1134" y="522">Mnr2</text></g>
<g id="n-Lia1" class="ab"><circle cx="1177" cy="518" r="18"/><text x="1177" y="522">Lia1</text></g>
<g id="n-Cdc19" class="ab"><circle cx="1221" cy="518" r="18"/><text x="1221" y="522">Cdc19</text></g>
<g id="n-Atg21" class="ab"><circle cx="1265" cy="518" r="18"/><text x="1265" y="522">Atg21</text></g>
<g id="n-Avl9" class="ab"><circle cx="959" cy="558" r="18"/><text x="959" y="562">Avl9</text></g>
<g id="n-Seh1" class="ab"><circle cx="1003" cy="558" r="18"/><text x="1003" y="562">Seh1</text></g>
<g id="n-Tif3" class="ab"><circle cx="1046" cy="558" r="18"/><text x="1046" y="562">Tif3</text></g>
<g id="n-Flc2" class="ab"><circle cx="1090" cy="558" r="18"/><text x="1090" y="562">Flc2</text></g>
<g id="n-Rio1" class="ab"><circle cx="1134" cy="558" r="18"/><text x="1134" y="562">Rio1</text></g>
<g id="n-Tif1" class="ab"><circle cx="1177" cy="558" r="18"/><text x="1177" y="562">Tif1</text></g>
<g id="n-Pup2" class="ab"><circle cx="1221" cy="558" r="18"/><text x="1221" y="562">Pup2</text></g>
<g id="n-Met6" class="ab"><circle cx="1265" cy="558" r="18"/><text x="1265" y="562">Met6</text></g>
<g id="n-Dre2" class="ab"><circle cx="959" cy="598" r="18"/><text x="959" y="602">Dre2</text></g>
<g id="n-Alk2" class="ab"><circle cx="1003" cy="598" r="18"/><text x="1003" y="602">Alk2</text></g>
<g id="n-Atg26" class="ab"><circle cx="1046" cy="598" r="18"/><text x="1046" y="602">Atg26</text></g>
<g id="n-Rpn1" class="ab"><circle cx="1090" cy="598" r="18"/><text x="1090" y="602">Rpn1</text></g>
<g id="n-Rcn1" class="ab"><circle cx="1134" cy="598" r="18"/><text x="1134" y="602">Rcn1</text></g>
<g id="n-Cdc48" class="ab"><circle cx="1177" cy="598" r="18"/><text x="1177" y="602">Cdc48</text></g>
<g id="n-Smf3" class="ab"><circle cx="1221" cy="598" r="18"/><text x="1221" y="602">Smf3</text></g>
<g id="n-Rpl7A-B" class="ab"><circle cx="1265" cy="598" r="18"/><text x="1265" y="602">Rpl7A/B</text></g>
<g id="n-Atg2" class="rd"><circle cx="959" cy="638" r="18"/><text x="959" y="642">Atg2</text></g>
<g id="n-Skt5" class="ab"><circle cx="1003" cy="638" r="18"/><text x="1003" y="642">Skt5</text></g>
<g id="n-Cue5" class="ab"><circle cx="1046" cy="638" r="18"/><text x="1046" y="642">Cue5</text></g>
<g id="n-Rei1" class="ab"><circle cx="1090" cy="638" r="18"/><text x="1090" y="642">Rei1</text></g>
<g id="n-Cdc33" class="ab"><circle cx="1134" cy="638" r="18"/><text x="1134" y="642">Cdc33</text></g>
<g id="n-Sup35" class="ab"><circle cx="1177" cy="638" r="18"/><text x="1177" y="642">Sup35</text></g>
<g id="n-Atg33" class="ab"><circle cx="1221" cy="638" r="18"/><text x="1221" y="642">Atg33</text></g>
<g id="n-Vtc2" class="ab"><circle cx="1265" cy="638" r="18"/><text x="1265" y="642">Vtc2</text></g>
<g id="n-Atg29" class="rd"><circle cx="959" cy="678" r="18"/><text x="959" y="682">Atg29</text></g>
<g id="n-Vps35" class="ab"><circle cx="1003" cy="678" r="18"/><text x="1003" y="682">Vps35</text></g>
<g id="n-Tma22" class="ab"><circle cx="1046" cy="678" r="18"/><text x="1046" y="682">Tma22</text></g>
<g id="n-Orm1" class="ab"><circle cx="1090" cy="678" r="18"/><text x="1090" y="682">Orm1</text></g>
<g id="n-Ybr287W" class="ab"><circle cx="1134" cy="678" r="18"/><text x="1134" y="682">Ybr287W</text></g>
<g id="n-Pcl7" class="ab"><circle cx="1177" cy="678" r="18"/><text x="1177" y="682">Pcl7</text></g>
<g id="n-Ynl011C" class="ab"><circle cx="1221" cy="678" r="18"/><text x="1221" y="682">Ynl011C</text></g>
<g id="n-Rom2" class="ab"><circle cx="1265" cy="678" r="18"/><text x="1265" y="682">Rom2</text></g>
<g id="n-Rtk1" class="ab"><circle cx="959" cy="718" r="18"/><text x="959" y="722">Rtk1</text></g>
<g id="n-Gpa2" class="ab"><circle cx="1003" cy="718" r="18"/><text x="1003" y="722">Gpa2</text></g>
<g id="n-Brr1" class="ab"><circle cx="1046" cy="718" r="18"/><text x="1046" y="722">Brr1</text></g>
<g id="n-Atg23" class="ab"><circle cx="1090" cy="718" r="18"/><text x="1090" y="722">Atg23</text></g>
<g id="n-Imh1" class="ab"><circle cx="1134" cy="718" r="18"/><text x="1134" y="722">Imh1</text></g>
<g id="n-Atg11" class="ab"><circle cx="1177" cy="718" r="18"/><text x="1177" y="722">Atg11</text></g>
<g id="n-Ykl023W" class="ab"><circle cx="1221" cy="718" r="18"/><text x="1221" y="722">Ykl023W</text></g>
<g id="n-Bpt1" class="ab"><circle cx="1265" cy="718" r="18"/><text x="1265" y="722">Bpt1</text></g>
<g id="n-Vps34" class="ab"><circle cx="959" cy="758" r="18"/><text x="959" y="762">Vps34</text></g>
<g id="n-Ykt6" class="ab"><circle cx="1003" cy="758" r="18"/><text x="1003" y="762">Ykt6</text></g>
<g id="n-Slx4" class="ab"><circle cx="1046" cy="758" r="18"/><text x="1046" y="762">Slx4</text></g>
<g id="n-Vps17" class="ab"><circle cx="1090" cy="758" r="18"/><text x="1090" y="762">Vps17</text></g>
<g id="n-Hom3" class="ab"><circle cx="1134" cy="758" r="18"/><text x="1134" y="762">Hom3</text></g>
<g id="n-Adh5" class="ab"><circle cx="1177" cy="758" r="18"/><text x="1177" y="762">Adh5</text></g>
<g id="n-Tmt1" class="ab"><circle cx="1221" cy="758" r="18"/><text x="1221" y="762">Tmt1</text></g>
<g id="n-Tpm1" class="ab"><circle cx="1265" cy="758" r="18"/><text x="1265" y="762">Tpm1</text></g>
<g id="n-Get2" class="ab"><circle cx="959" cy="798" r="18"/><text x="959" y="802">Get2</text></g>
<g id="n-Ycr051W" class="ab"><circle cx="1003" cy="798" r="18"/><text x="1003" y="802">Ycr051W</text></g>
<g id="n-Vac8" class="ab"><circle cx="1046" cy="798" r="18"/><text x="1046" y="802">Vac8</text></g>
<g id="n-Net1" class="ab"><circle cx="1090" cy="798" r="18"/><text x="1090" y="802">Net1</text></g>
<g id="n-Lsm2" class="ab"><circle cx="1134" cy="798" r="18"/><text x="1134" y="802">Lsm2</text></g>
<g id="n-Vti1" class="ab"><circle cx="1177" cy="798" r="18"/><text x="1177" y="802">Vti1</text></g>
<g id="n-Atg16" class="ab"><circle cx="1221" cy="798" r="18"/><text x="1221" y="802">Atg16</text></g>
<g id="n-Vma1" class="ab"><circle cx="1265" cy="798" r="18"/><text x="1265" y="802">Vma1</text></g>
<g id="n-Pwp1" class="ab"><circle cx="959" cy="837" r="18"/><text x="959" y="841">Pwp1</text></g>
<g id="n-Dbp5" class="ab"><circle cx="1003" cy="837" r="18"/><text x="1003" y="841">Dbp5</text></g>
<g id="n-Bir1" class="ab"><circle cx="1046" cy="837" r="18"/><text x="1046" y="841">Bir1</text></g>
<g id="n-Yjl055W" class="ab"><circle cx="1090" cy="837" r="18"/><text x="1090" y="841">Yjl055W</text></g>
<g id="n-Eno1" class="ab"><circle cx="1134" cy="837" r="18"/><text x="1134" y="841">Eno1</text></g>
<g id="n-Yfr016C" class="ab"><circle cx="1177" cy="839" r="18"/><text x="1177" y="843">Yfr016C</text></g>
<g id="n-Zpr1" class="ab"><circle cx="1221" cy="837" r="18"/><text x="1221" y="841">Zpr1</text></g>
<g id="n-Ypt32" class="ab"><circle cx="1265" cy="837" r="18"/><text x="1265" y="841">Ypt32</text></g>
<g id="n-Zeo1" class="ab"><circle cx="959" cy="878" r="18"/><text x="959" y="882">Zeo1</text></g>
<g id="n-Yir007W" class="ab"><circle cx="1003" cy="878" r="18"/><text x="1003" y="882">Yir007W</text></g>

<g id="n-Nus1" class="or"><circle cx="38" cy="950" r="18"/><text x="38" y="954">Nus1</text></g>
<g id="n-Tom22" class="or"><circle cx="87" cy="950" r="18"/><text x="87" y="954">Tom22</text></g>
<g id="n-Trs120" class="or"><circle cx="137" cy="950" r="18"/><text x="137" y="954">Trs120</text></g>
<g id="n-Bem3" class="or"><circle cx="181" cy="950" r="18"/><text x="181" y="954">Bem3</text></g>
<g id="n-Itr1" class="or"><circle cx="230" cy="950" r="18"/><text x="230" y="954">Itr1</text></g>
<g id="n-Aly1" class="or"><circle cx="277" cy="950" r="18"/><text x="277" y="954">Aly1</text></g>
<g id="n-Bul2" class="or"><circle cx="325" cy="950" r="18"/><text x="325" y="954">Bul2</text></g>
<g id="n-Bul1" class="or"><circle cx="366" cy="950" r="18"/><text x="366" y="954">Bul1</text></g>
<g id="n-Par32" class="rd"><circle cx="408" cy="952" r="18"/><text x="408" y="956">Par32</text></g>
<g id="n-Erg6" class="nl"><circle cx="37" cy="991" r="18"/><text x="37" y="995">Erg6</text></g>
<g id="n-Kel1" class="nl"><circle cx="88" cy="991" r="18"/><text x="88" y="995">Kel1</text></g>
<g id="n-Mss4" class="nl"><circle cx="137" cy="991" r="18"/><text x="137" y="995">Mss4</text></g>
<g id="n-Hxt6-7" class="nl"><circle cx="181" cy="991" r="18"/><text x="181" y="995">Hxt6/7</text></g>
<g id="n-Whi2" class="nl"><circle cx="230" cy="991" r="18"/><text x="230" y="995">Whi2</text></g>
<g id="n-Vcx1" class="or"><circle cx="277" cy="991" r="18"/><text x="277" y="995">Vcx1</text></g>
<g id="n-Rho5" class="or"><circle cx="325" cy="991" r="18"/><text x="325" y="995">Rho5</text></g>
<g id="n-Agp1" class="or"><circle cx="370" cy="991" r="18"/><text x="370" y="995">Agp1</text></g>
<g id="n-Ppz1" class="nl"><circle cx="37" cy="1031" r="18"/><text x="37" y="1035">Ppz1</text></g>
<g id="n-Uga4" class="nl"><circle cx="88" cy="1031" r="18"/><text x="88" y="1035">Uga4</text></g>
<g id="n-Osh3" class="nl"><circle cx="137" cy="1031" r="18"/><text x="137" y="1035">Osh3</text></g>
<g id="n-Rps29A" class="nl"><circle cx="181" cy="1031" r="18"/><text x="181" y="1035">Rps29A</text></g>
<g id="n-Ymr196W" class="nl"><circle cx="230" cy="1031" r="18"/><text x="230" y="1035">Ymr196W</text></g>
<g id="n-Myo5" class="nl"><circle cx="277" cy="1031" r="18"/><text x="277" y="1035">Myo5</text></g>
<g id="n-Ypk1" class="nl"><circle cx="325" cy="1031" r="18"/><text x="325" y="1035">Ypk1</text></g>
<g id="n-Use1" class="nl"><circle cx="370" cy="1031" r="18"/><text x="370" y="1035">Use1</text></g>
<g id="n-Vps54" class="nl"><circle cx="37" cy="1071" r="18"/><text x="37" y="1075">Vps54</text></g>
<g id="n-Ecm21" class="nl"><circle cx="88" cy="1071" r="18"/><text x="88" y="1075">Ecm21</text></g>
<g id="n-Nob1" class="nl"><circle cx="137" cy="1071" r="18"/><text x="137" y="1075">Nob1</text></g>
<g id="n-Rgc1" class="nl"><circle cx="181" cy="1071" r="18"/><text x="181" y="1075">Rgc1</text></g>
<g id="n-Pns1" class="nl"><circle cx="230" cy="1071" r="18"/><text x="230" y="1075">Pns1</text></g>
<g id="n-Bug1" class="nl"><circle cx="277" cy="1071" r="18"/><text x="277" y="1075">Bug1</text></g>
<g id="n-Mrpl13" class="nl"><circle cx="325" cy="1071" r="18"/><text x="325" y="1075">Mrpl13</text></g>
<g id="n-Far8" class="nl"><circle cx="370" cy="1071" r="18"/><text x="370" y="1075">Far8</text></g>
<g id="n-Sac7" class="nl"><circle cx="37" cy="1110" r="18"/><text x="37" y="1114" style="fill:#1a7a3e">Sac7</text></g>
<g id="n-Jsn1" class="nl"><circle cx="88" cy="1110" r="18"/><text x="88" y="1114">Jsn1</text></g>
<g id="n-Acf4" class="nl"><circle cx="137" cy="1110" r="18"/><text x="137" y="1114">Acf4</text></g>
<g id="n-Ygr237C" class="nl"><circle cx="181" cy="1110" r="18"/><text x="181" y="1114">Ygr237C</text></g>
<g id="n-Fmp27" class="nl"><circle cx="230" cy="1110" r="18"/><text x="230" y="1114">Fmp27</text></g>
<g id="n-Tcb3" class="nl"><circle cx="277" cy="1110" r="18"/><text x="277" y="1114">Tcb3</text></g>
<g id="n-Hxt1" class="nl"><circle cx="325" cy="1110" r="18"/><text x="325" y="1114">Hxt1</text></g>
<g id="n-Ypr084W" class="nl"><circle cx="370" cy="1110" r="18"/><text x="370" y="1114">Ypr084W</text></g>
<g id="n-Bro1" class="nl"><circle cx="37" cy="1151" r="18"/><text x="37" y="1155">Bro1</text></g>
<g id="n-Ymr124W" class="nl"><circle cx="88" cy="1151" r="18"/><text x="88" y="1155">Ymr124W</text></g>
<g id="n-Slm2" class="nl"><circle cx="137" cy="1151" r="18"/><text x="137" y="1155">Slm2</text></g>
<g id="n-Mch4" class="nl"><circle cx="181" cy="1151" r="18"/><text x="181" y="1155">Mch4</text></g>
<g id="n-Ycr061W" class="nl"><circle cx="230" cy="1151" r="18"/><text x="230" y="1155">Ycr061W</text></g>
<g id="n-Mup1" class="nl"><circle cx="277" cy="1151" r="18"/><text x="277" y="1155">Mup1</text></g>
<g id="n-Ssa3" class="nl"><circle cx="325" cy="1151" r="18"/><text x="325" y="1155">Ssa3</text></g>
<g id="n-Dur3" class="nl"><circle cx="370" cy="1151" r="18"/><text x="370" y="1155">Dur3</text></g>
<g id="n-Yel043W" class="nl"><circle cx="37" cy="1190" r="18"/><text x="37" y="1194">Yel043W</text></g>
<g id="n-Ymr253C" class="nl"><circle cx="88" cy="1190" r="18"/><text x="88" y="1194">Ymr253C</text></g>
<g id="n-Amd1" class="nl"><circle cx="137" cy="1190" r="18"/><text x="137" y="1194">Amd1</text></g>
<g id="n-Lre1" class="nl"><circle cx="181" cy="1190" r="18"/><text x="181" y="1194">Lre1</text></g>
<g id="n-Yhr131C" class="nl"><circle cx="230" cy="1190" r="18"/><text x="230" y="1194">Yhr131C</text></g>
<g id="n-Dal5" class="nl"><circle cx="277" cy="1190" r="18"/><text x="277" y="1194">Dal5</text></g>
<g id="n-Spo14" class="nl"><circle cx="325" cy="1190" r="18"/><text x="325" y="1194">Spo14</text></g>
<g id="n-Sat4" class="nl"><circle cx="370" cy="1190" r="18"/><text x="370" y="1194">Sat4</text></g>
<g id="n-Ydr239C" class="nl"><circle cx="37" cy="1229" r="18"/><text x="37" y="1233">Ydr239C</text></g>
<g id="n-Pbp4" class="nl"><circle cx="88" cy="1229" r="18"/><text x="88" y="1233">Pbp4</text></g>
<g id="n-Enb1" class="nl"><circle cx="137" cy="1229" r="18"/><text x="137" y="1233">Enb1</text></g>
<g id="n-Bud3" class="nl"><circle cx="181" cy="1229" r="18"/><text x="181" y="1233">Bud3</text></g>
<g id="n-Can1" class="nl"><circle cx="230" cy="1229" r="18"/><text x="230" y="1233">Can1</text></g>
<g id="n-Kin2" class="nl"><circle cx="277" cy="1229" r="18"/><text x="277" y="1233">Kin2</text></g>
<g id="n-Bud2" class="nl"><circle cx="325" cy="1229" r="18"/><text x="325" y="1233">Bud2</text></g>
<g id="n-Rio2" class="nl"><circle cx="370" cy="1229" r="18"/><text x="370" y="1233">Rio2</text></g>
<g id="n-Efr3" class="nl"><circle cx="37" cy="1269" r="18"/><text x="37" y="1273">Efr3</text></g>
<g id="n-Ysp2" class="nl"><circle cx="88" cy="1269" r="18"/><text x="88" y="1273">Ysp2</text></g>
<g id="n-Ypl150W" class="nl"><circle cx="137" cy="1269" r="18"/><text x="137" y="1273">Ypl150W</text></g>
<g id="n-Tpo3" class="nl"><circle cx="181" cy="1269" r="18"/><text x="181" y="1273">Tpo3</text></g>
<g id="n-Yfl034W" class="nl"><circle cx="230" cy="1269" r="18"/><text x="230" y="1273">Yfl034W</text></g>
<g id="n-Ydl180W" class="nl"><circle cx="277" cy="1269" r="18"/><text x="277" y="1273">Ydl180W</text></g>
<g id="n-Boi2" class="nl"><circle cx="325" cy="1269" r="18"/><text x="325" y="1273">Boi2</text></g>
<g id="n-Dnf2" class="nl"><circle cx="370" cy="1269" r="18"/><text x="370" y="1273">Dnf2</text></g>

<g id="n-Chs5" class="sm"><circle cx="579" cy="1143" r="18"/><text x="579" y="1147">Chs5</text></g>
<g id="n-Sec7" class="or rg"><circle cx="628" cy="1143" r="18"/><text x="628" y="1147">Sec7</text></g>
<g id="n-Kip2" class="sm"><circle cx="678" cy="1143" r="18"/><text x="678" y="1147">Kip2</text></g>
<g id="n-Upc2" class="sm"><circle cx="579" cy="1183" r="18"/><text x="579" y="1187">Upc2</text></g>
<g id="n-Vnx1" class="sm"><circle cx="628" cy="1183" r="18"/><text x="628" y="1187">Vnx1</text></g>
<g id="n-Swa2" class="sm"><circle cx="678" cy="1180" r="18"/><text x="678" y="1184">Swa2</text></g>
<g id="n-Hxt3" class="sm"><circle cx="579" cy="1224" r="18"/><text x="579" y="1228">Hxt3</text></g>
<g id="n-Bet1" class="sm"><circle cx="628" cy="1225" r="18"/><text x="628" y="1229">Bet1</text></g>
<g id="n-Vps13" class="sm"><circle cx="678" cy="1223" r="18"/><text x="678" y="1227">Vps13</text></g>
<g id="n-Tif11" class="sm"><circle cx="579" cy="1264" r="18"/><text x="579" y="1268">Tif11</text></g>
<g id="n-Are1" class="sm"><circle cx="628" cy="1264" r="18"/><text x="628" y="1268">Are1</text></g>
<g id="n-Rtg3" class="sm"><circle cx="678" cy="1264" r="18"/><text x="678" y="1268">Rtg3</text></g>
<g id="n-Tye7" class="sl"><circle cx="944" cy="1178" r="18"/><text x="944" y="1182">Tye7</text></g>
<g id="n-Ypk9" class="sl"><circle cx="989" cy="1178" r="18"/><text x="989" y="1182">Ypk9</text></g>
<g id="n-Gip3" class="sl"><circle cx="944" cy="1224" r="18"/><text x="944" y="1228">Gip3</text></g>
<g id="n-Mig1" class="sl"><circle cx="989" cy="1224" r="18"/><text x="989" y="1228">Mig1</text></g>
<g id="n-Crz1" class="sl"><circle cx="989" cy="1270" r="18"/><text x="989" y="1274">Crz1</text></g>
</g>

<g id="hubs" class="H">
<g id="n-Rim15" class="rl"><circle cx="419" cy="507" r="37"/><text x="419" y="513">Rim15</text></g>
<g id="n-Yak1" class="yd"><circle cx="803" cy="507" r="37"/><text x="803" y="513">Yak1</text></g>
<g id="n-Gcn2" class="gb"><circle cx="420" cy="687" r="37"/><text x="420" y="693">Gcn2</text></g>
<g id="n-Atg1" class="ab"><circle cx="808" cy="687" r="37"/><text x="808" y="693">Atg1</text></g>
<g id="n-Npr1" class="nh"><circle cx="424" cy="833" r="37"/><text x="424" y="839">Npr1</text></g>
<g id="n-Slt2" class="sh"><circle cx="811" cy="832" r="37"/><text x="811" y="838">Slt2</text></g>
</g>
</svg>
